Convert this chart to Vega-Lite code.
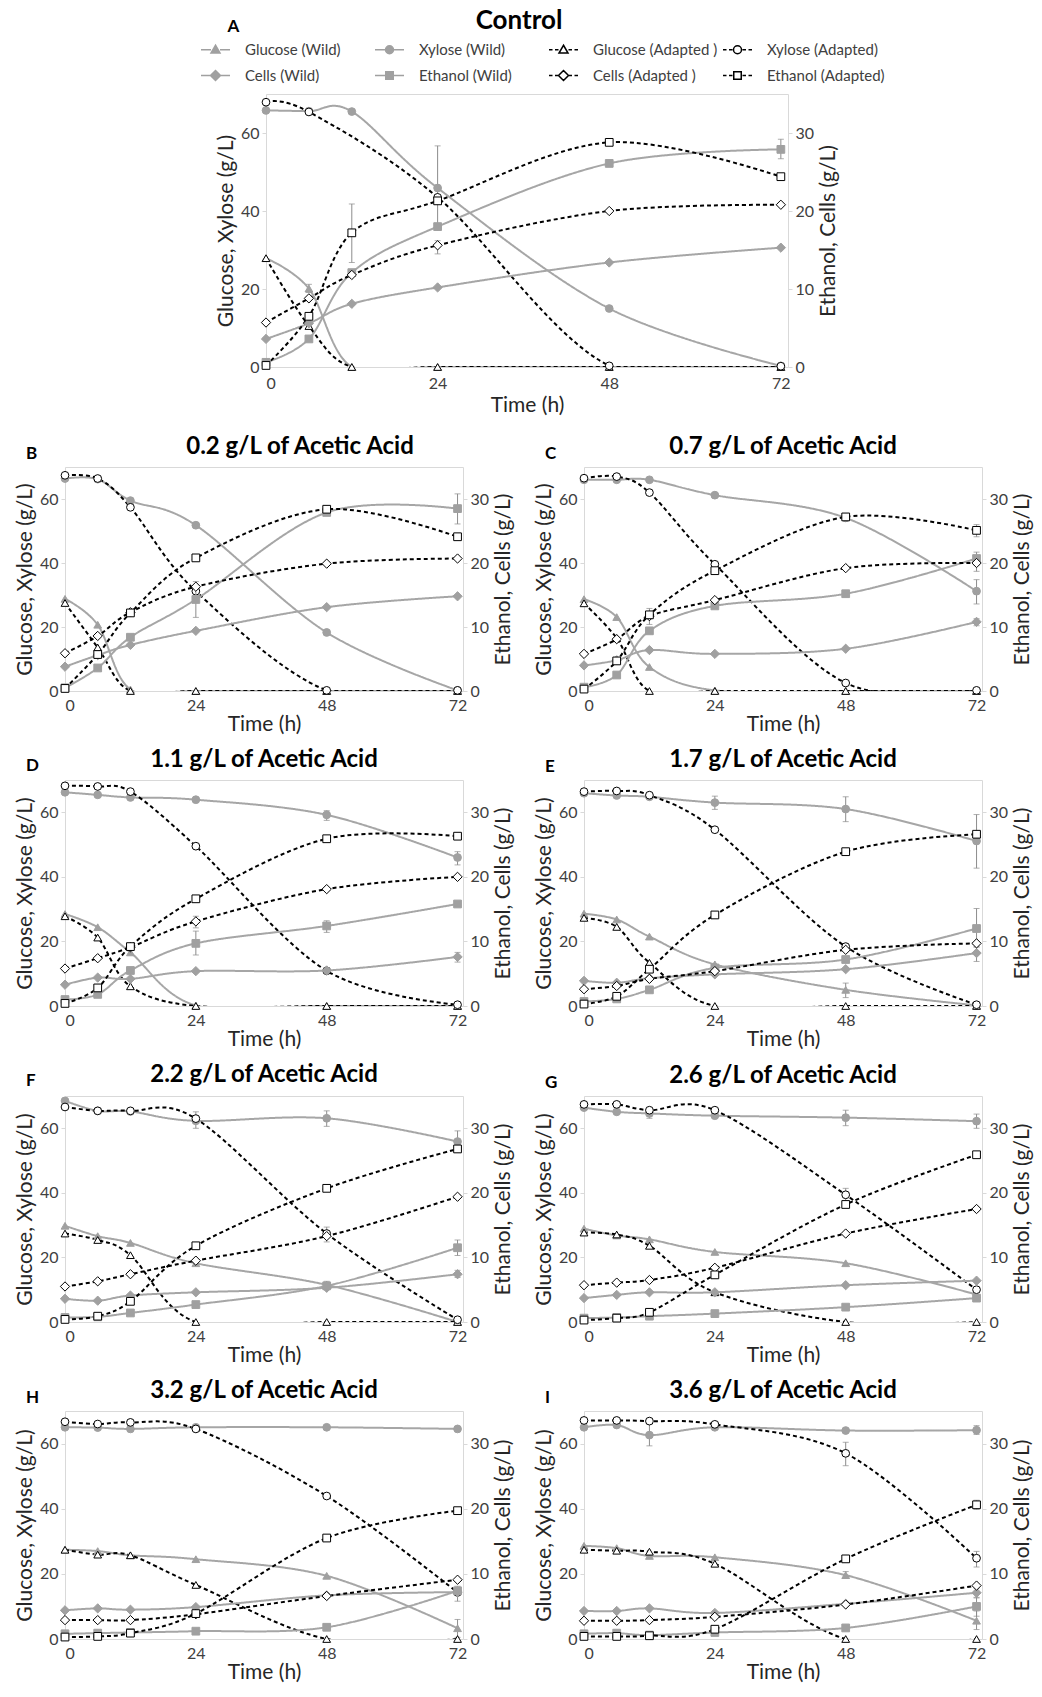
{
"$schema":"https://vega.github.io/schema/vega-lite/v6.json",
"padding":{"left":13,"top":7,"right":4,"bottom":4},
"background":"white",
"config":{
 "font":"Lato",
 "view":{"stroke":"#d9d9d9","strokeWidth":1},
 "axis":{"grid":false,"domain":false,"ticks":true,"tickColor":"#d9d9d9","tickSize":4,"labelFont":"Lato","labelFontSize":16,"labelColor":"#404040","labelPadding":3,"titleFont":"Lato","titleFontSize":21,"titleFontWeight":"normal","titleColor":"#262626","titlePadding":4},
 "axisRight":{"titleAngle":270,"titleBaseline":"top"},
 "title":{"font":"Lato","fontSize":24,"fontWeight":"bold","color":"#000000","offset":8}
},
"datasets":{"d":[
{"p":"A","s":"Glucose (Wild)","t":0,"v":27.9},{"p":"A","s":"Glucose (Wild)","t":6,"v":20.1,"lo":19.1,"hi":21.2},{"p":"A","s":"Glucose (Wild)","t":12,"v":0},{"p":"A","s":"Glucose (Wild)","t":24,"v":0},{"p":"A","s":"Glucose (Wild)","t":48,"v":0},{"p":"A","s":"Glucose (Wild)","t":72,"v":0},
{"p":"A","s":"Xylose (Wild)","t":0,"v":65.8},{"p":"A","s":"Xylose (Wild)","t":6,"v":65.6},{"p":"A","s":"Xylose (Wild)","t":12,"v":65.5},{"p":"A","s":"Xylose (Wild)","t":24,"v":45.9,"lo":35.0,"hi":56.7},{"p":"A","s":"Xylose (Wild)","t":48,"v":15.0},{"p":"A","s":"Xylose (Wild)","t":72,"v":0.3},
{"p":"A","s":"Glucose (Adapted )","t":0,"v":27.9},{"p":"A","s":"Glucose (Adapted )","t":6,"v":10.5},{"p":"A","s":"Glucose (Adapted )","t":12,"v":0},{"p":"A","s":"Glucose (Adapted )","t":24,"v":0},{"p":"A","s":"Glucose (Adapted )","t":48,"v":0},{"p":"A","s":"Glucose (Adapted )","t":72,"v":0},
{"p":"A","s":"Xylose (Adapted)","t":0,"v":67.9},{"p":"A","s":"Xylose (Adapted)","t":6,"v":65.4},{"p":"A","s":"Xylose (Adapted)","t":24,"v":43.5},{"p":"A","s":"Xylose (Adapted)","t":48,"v":0.3},{"p":"A","s":"Xylose (Adapted)","t":72,"v":0.2},
{"p":"A","s":"Cells (Wild)","t":0,"v":3.6},{"p":"A","s":"Cells (Wild)","t":6,"v":5.6},{"p":"A","s":"Cells (Wild)","t":12,"v":8.1},{"p":"A","s":"Cells (Wild)","t":24,"v":10.2},{"p":"A","s":"Cells (Wild)","t":48,"v":13.4},{"p":"A","s":"Cells (Wild)","t":72,"v":15.3},
{"p":"A","s":"Ethanol (Wild)","t":0,"v":0.6},{"p":"A","s":"Ethanol (Wild)","t":6,"v":3.6},{"p":"A","s":"Ethanol (Wild)","t":12,"v":12.1},{"p":"A","s":"Ethanol (Wild)","t":24,"v":18.0},{"p":"A","s":"Ethanol (Wild)","t":48,"v":26.1},{"p":"A","s":"Ethanol (Wild)","t":72,"v":27.9,"lo":26.7,"hi":29.2},
{"p":"A","s":"Cells (Adapted )","t":0,"v":5.7},{"p":"A","s":"Cells (Adapted )","t":6,"v":8.8},{"p":"A","s":"Cells (Adapted )","t":12,"v":11.8},{"p":"A","s":"Cells (Adapted )","t":24,"v":15.6,"lo":14.5,"hi":16.2},{"p":"A","s":"Cells (Adapted )","t":48,"v":20.0},{"p":"A","s":"Cells (Adapted )","t":72,"v":20.8},
{"p":"A","s":"Ethanol (Adapted)","t":0,"v":0.2},{"p":"A","s":"Ethanol (Adapted)","t":6,"v":6.5},{"p":"A","s":"Ethanol (Adapted)","t":12,"v":17.2,"lo":13.4,"hi":20.9},{"p":"A","s":"Ethanol (Adapted)","t":24,"v":21.3},{"p":"A","s":"Ethanol (Adapted)","t":48,"v":28.8},{"p":"A","s":"Ethanol (Adapted)","t":72,"v":24.4},

{"p":"B","s":"Glucose (Wild)","t":0,"v":28.8},{"p":"B","s":"Glucose (Wild)","t":6,"v":20.7},{"p":"B","s":"Glucose (Wild)","t":12,"v":0.5},{"p":"B","s":"Glucose (Wild)","t":24,"v":0},{"p":"B","s":"Glucose (Wild)","t":48,"v":0},{"p":"B","s":"Glucose (Wild)","t":72,"v":0},
{"p":"B","s":"Xylose (Wild)","t":0,"v":66.4},{"p":"B","s":"Xylose (Wild)","t":6,"v":66.2},{"p":"B","s":"Xylose (Wild)","t":12,"v":59.5},{"p":"B","s":"Xylose (Wild)","t":24,"v":51.8},{"p":"B","s":"Xylose (Wild)","t":48,"v":18.3},{"p":"B","s":"Xylose (Wild)","t":72,"v":0.2},
{"p":"B","s":"Glucose (Adapted )","t":0,"v":27.5},{"p":"B","s":"Glucose (Adapted )","t":6,"v":13.6},{"p":"B","s":"Glucose (Adapted )","t":12,"v":0},{"p":"B","s":"Glucose (Adapted )","t":24,"v":0},{"p":"B","s":"Glucose (Adapted )","t":48,"v":0},{"p":"B","s":"Glucose (Adapted )","t":72,"v":0},
{"p":"B","s":"Xylose (Adapted)","t":0,"v":67.4},{"p":"B","s":"Xylose (Adapted)","t":6,"v":66.4},{"p":"B","s":"Xylose (Adapted)","t":12,"v":57.4},{"p":"B","s":"Xylose (Adapted)","t":24,"v":31.2},{"p":"B","s":"Xylose (Adapted)","t":48,"v":0.2},{"p":"B","s":"Xylose (Adapted)","t":72,"v":0.2},
{"p":"B","s":"Cells (Wild)","t":0,"v":3.8},{"p":"B","s":"Cells (Wild)","t":6,"v":5.6},{"p":"B","s":"Cells (Wild)","t":12,"v":7.2},{"p":"B","s":"Cells (Wild)","t":24,"v":9.4},{"p":"B","s":"Cells (Wild)","t":48,"v":13.1},{"p":"B","s":"Cells (Wild)","t":72,"v":14.8},
{"p":"B","s":"Ethanol (Wild)","t":0,"v":0.5},{"p":"B","s":"Ethanol (Wild)","t":6,"v":3.6},{"p":"B","s":"Ethanol (Wild)","t":12,"v":8.4},{"p":"B","s":"Ethanol (Wild)","t":24,"v":14.3,"lo":11.5,"hi":17.1},{"p":"B","s":"Ethanol (Wild)","t":48,"v":27.9},{"p":"B","s":"Ethanol (Wild)","t":72,"v":28.5,"lo":26.1,"hi":30.8},
{"p":"B","s":"Cells (Adapted )","t":0,"v":5.9},{"p":"B","s":"Cells (Adapted )","t":6,"v":8.6},{"p":"B","s":"Cells (Adapted )","t":12,"v":12.3},{"p":"B","s":"Cells (Adapted )","t":24,"v":16.3},{"p":"B","s":"Cells (Adapted )","t":48,"v":19.9},{"p":"B","s":"Cells (Adapted )","t":72,"v":20.7},
{"p":"B","s":"Ethanol (Adapted)","t":0,"v":0.4},{"p":"B","s":"Ethanol (Adapted)","t":6,"v":5.7},{"p":"B","s":"Ethanol (Adapted)","t":12,"v":12.2},{"p":"B","s":"Ethanol (Adapted)","t":24,"v":20.8},{"p":"B","s":"Ethanol (Adapted)","t":48,"v":28.4},{"p":"B","s":"Ethanol (Adapted)","t":72,"v":24.1},

{"p":"C","s":"Glucose (Wild)","t":0,"v":28.7},{"p":"C","s":"Glucose (Wild)","t":6,"v":23.1},{"p":"C","s":"Glucose (Wild)","t":12,"v":7.5},{"p":"C","s":"Glucose (Wild)","t":24,"v":0.2},{"p":"C","s":"Glucose (Wild)","t":48,"v":0},{"p":"C","s":"Glucose (Wild)","t":72,"v":0},
{"p":"C","s":"Xylose (Wild)","t":0,"v":66.0},{"p":"C","s":"Xylose (Wild)","t":6,"v":66.0},{"p":"C","s":"Xylose (Wild)","t":12,"v":66.0},{"p":"C","s":"Xylose (Wild)","t":24,"v":61.2},{"p":"C","s":"Xylose (Wild)","t":48,"v":54.1},{"p":"C","s":"Xylose (Wild)","t":72,"v":31.2,"lo":27.2,"hi":34.8},
{"p":"C","s":"Glucose (Adapted )","t":0,"v":27.4},{"p":"C","s":"Glucose (Adapted )","t":6,"v":16.5},{"p":"C","s":"Glucose (Adapted )","t":12,"v":0},{"p":"C","s":"Glucose (Adapted )","t":24,"v":0},{"p":"C","s":"Glucose (Adapted )","t":48,"v":0},{"p":"C","s":"Glucose (Adapted )","t":72,"v":0},
{"p":"C","s":"Xylose (Adapted)","t":0,"v":66.5},{"p":"C","s":"Xylose (Adapted)","t":6,"v":67.0},{"p":"C","s":"Xylose (Adapted)","t":12,"v":62.0},{"p":"C","s":"Xylose (Adapted)","t":24,"v":39.6},{"p":"C","s":"Xylose (Adapted)","t":48,"v":2.5},{"p":"C","s":"Xylose (Adapted)","t":72,"v":0.2},
{"p":"C","s":"Cells (Wild)","t":0,"v":4.0},{"p":"C","s":"Cells (Wild)","t":6,"v":4.8},{"p":"C","s":"Cells (Wild)","t":12,"v":6.4},{"p":"C","s":"Cells (Wild)","t":24,"v":5.8},{"p":"C","s":"Cells (Wild)","t":48,"v":6.6},{"p":"C","s":"Cells (Wild)","t":72,"v":10.8,"lo":10.2,"hi":11.3},
{"p":"C","s":"Ethanol (Wild)","t":0,"v":0.6},{"p":"C","s":"Ethanol (Wild)","t":6,"v":2.5},{"p":"C","s":"Ethanol (Wild)","t":12,"v":9.4},{"p":"C","s":"Ethanol (Wild)","t":24,"v":13.3},{"p":"C","s":"Ethanol (Wild)","t":48,"v":15.2},{"p":"C","s":"Ethanol (Wild)","t":72,"v":20.7,"lo":19.7,"hi":21.7},
{"p":"C","s":"Cells (Adapted )","t":0,"v":5.8},{"p":"C","s":"Cells (Adapted )","t":6,"v":8.1},{"p":"C","s":"Cells (Adapted )","t":12,"v":11.7},{"p":"C","s":"Cells (Adapted )","t":24,"v":14.2},{"p":"C","s":"Cells (Adapted )","t":48,"v":19.2},{"p":"C","s":"Cells (Adapted )","t":72,"v":20.0,"lo":18.7,"hi":21.0},
{"p":"C","s":"Ethanol (Adapted)","t":0,"v":0.3},{"p":"C","s":"Ethanol (Adapted)","t":6,"v":4.7},{"p":"C","s":"Ethanol (Adapted)","t":12,"v":11.9,"lo":10.4,"hi":12.9},{"p":"C","s":"Ethanol (Adapted)","t":24,"v":18.8},{"p":"C","s":"Ethanol (Adapted)","t":48,"v":27.2},{"p":"C","s":"Ethanol (Adapted)","t":72,"v":25.1,"lo":24.1,"hi":26.0},

{"p":"D","s":"Glucose (Wild)","t":0,"v":28.5},{"p":"D","s":"Glucose (Wild)","t":6,"v":24.4},{"p":"D","s":"Glucose (Wild)","t":12,"v":16.6},{"p":"D","s":"Glucose (Wild)","t":24,"v":0.2},{"p":"D","s":"Glucose (Wild)","t":48,"v":0},{"p":"D","s":"Glucose (Wild)","t":72,"v":0},
{"p":"D","s":"Xylose (Wild)","t":0,"v":66.2},{"p":"D","s":"Xylose (Wild)","t":6,"v":65.4},{"p":"D","s":"Xylose (Wild)","t":12,"v":64.6},{"p":"D","s":"Xylose (Wild)","t":24,"v":63.9},{"p":"D","s":"Xylose (Wild)","t":48,"v":59.2,"lo":57.5,"hi":60.5},{"p":"D","s":"Xylose (Wild)","t":72,"v":46.0,"lo":43.7,"hi":47.8},
{"p":"D","s":"Glucose (Adapted )","t":0,"v":27.8},{"p":"D","s":"Glucose (Adapted )","t":6,"v":21.2},{"p":"D","s":"Glucose (Adapted )","t":12,"v":6.1},{"p":"D","s":"Glucose (Adapted )","t":24,"v":0},{"p":"D","s":"Glucose (Adapted )","t":48,"v":0},{"p":"D","s":"Glucose (Adapted )","t":72,"v":0},
{"p":"D","s":"Xylose (Adapted)","t":0,"v":68.2},{"p":"D","s":"Xylose (Adapted)","t":6,"v":68.0},{"p":"D","s":"Xylose (Adapted)","t":12,"v":66.4},{"p":"D","s":"Xylose (Adapted)","t":24,"v":49.5},{"p":"D","s":"Xylose (Adapted)","t":48,"v":10.9},{"p":"D","s":"Xylose (Adapted)","t":72,"v":0.4},
{"p":"D","s":"Cells (Wild)","t":0,"v":3.3},{"p":"D","s":"Cells (Wild)","t":6,"v":4.4},{"p":"D","s":"Cells (Wild)","t":12,"v":4.2},{"p":"D","s":"Cells (Wild)","t":24,"v":5.4},{"p":"D","s":"Cells (Wild)","t":48,"v":5.5},{"p":"D","s":"Cells (Wild)","t":72,"v":7.6,"lo":6.8,"hi":8.3},
{"p":"D","s":"Ethanol (Wild)","t":0,"v":1.0},{"p":"D","s":"Ethanol (Wild)","t":6,"v":1.8},{"p":"D","s":"Ethanol (Wild)","t":12,"v":5.5},{"p":"D","s":"Ethanol (Wild)","t":24,"v":9.7,"lo":7.9,"hi":11.6},{"p":"D","s":"Ethanol (Wild)","t":48,"v":12.4,"lo":11.4,"hi":13.2},{"p":"D","s":"Ethanol (Wild)","t":72,"v":15.8},
{"p":"D","s":"Cells (Adapted )","t":0,"v":5.8},{"p":"D","s":"Cells (Adapted )","t":6,"v":7.4},{"p":"D","s":"Cells (Adapted )","t":12,"v":9.1},{"p":"D","s":"Cells (Adapted )","t":24,"v":13.1,"lo":12.1,"hi":13.9},{"p":"D","s":"Cells (Adapted )","t":48,"v":18.1},{"p":"D","s":"Cells (Adapted )","t":72,"v":20.0},
{"p":"D","s":"Ethanol (Adapted)","t":0,"v":0.4},{"p":"D","s":"Ethanol (Adapted)","t":6,"v":2.8},{"p":"D","s":"Ethanol (Adapted)","t":12,"v":9.2},{"p":"D","s":"Ethanol (Adapted)","t":24,"v":16.6},{"p":"D","s":"Ethanol (Adapted)","t":48,"v":25.9},{"p":"D","s":"Ethanol (Adapted)","t":72,"v":26.3},

{"p":"E","s":"Glucose (Wild)","t":0,"v":28.6},{"p":"E","s":"Glucose (Wild)","t":6,"v":26.8},{"p":"E","s":"Glucose (Wild)","t":12,"v":21.5},{"p":"E","s":"Glucose (Wild)","t":24,"v":12.9},{"p":"E","s":"Glucose (Wild)","t":48,"v":5.0,"lo":2.6,"hi":7.1},{"p":"E","s":"Glucose (Wild)","t":72,"v":0.2},
{"p":"E","s":"Xylose (Wild)","t":0,"v":65.9},{"p":"E","s":"Xylose (Wild)","t":6,"v":65.2},{"p":"E","s":"Xylose (Wild)","t":12,"v":64.8},{"p":"E","s":"Xylose (Wild)","t":24,"v":63.0,"lo":60.9,"hi":65.0},{"p":"E","s":"Xylose (Wild)","t":48,"v":61.0,"lo":57.1,"hi":64.8},{"p":"E","s":"Xylose (Wild)","t":72,"v":51.1,"lo":42.7,"hi":59.3},
{"p":"E","s":"Glucose (Adapted )","t":0,"v":27.3},{"p":"E","s":"Glucose (Adapted )","t":6,"v":24.5},{"p":"E","s":"Glucose (Adapted )","t":12,"v":13.4},{"p":"E","s":"Glucose (Adapted )","t":24,"v":0},{"p":"E","s":"Glucose (Adapted )","t":48,"v":0},{"p":"E","s":"Glucose (Adapted )","t":72,"v":0},
{"p":"E","s":"Xylose (Adapted)","t":0,"v":66.4},{"p":"E","s":"Xylose (Adapted)","t":6,"v":66.6},{"p":"E","s":"Xylose (Adapted)","t":12,"v":65.3},{"p":"E","s":"Xylose (Adapted)","t":24,"v":54.6},{"p":"E","s":"Xylose (Adapted)","t":48,"v":18.4},{"p":"E","s":"Xylose (Adapted)","t":72,"v":0.4},
{"p":"E","s":"Cells (Wild)","t":0,"v":3.9},{"p":"E","s":"Cells (Wild)","t":6,"v":3.6},{"p":"E","s":"Cells (Wild)","t":12,"v":4.3},{"p":"E","s":"Cells (Wild)","t":24,"v":4.9},{"p":"E","s":"Cells (Wild)","t":48,"v":5.7},{"p":"E","s":"Cells (Wild)","t":72,"v":8.2,"lo":6.9,"hi":9.1},
{"p":"E","s":"Ethanol (Wild)","t":0,"v":0.7},{"p":"E","s":"Ethanol (Wild)","t":6,"v":1.1},{"p":"E","s":"Ethanol (Wild)","t":12,"v":2.5},{"p":"E","s":"Ethanol (Wild)","t":24,"v":5.9},{"p":"E","s":"Ethanol (Wild)","t":48,"v":7.2},{"p":"E","s":"Ethanol (Wild)","t":72,"v":12.0,"lo":9.2,"hi":15.1},
{"p":"E","s":"Cells (Adapted )","t":0,"v":2.6},{"p":"E","s":"Cells (Adapted )","t":6,"v":3.1},{"p":"E","s":"Cells (Adapted )","t":12,"v":4.2},{"p":"E","s":"Cells (Adapted )","t":24,"v":5.4},{"p":"E","s":"Cells (Adapted )","t":48,"v":8.7},{"p":"E","s":"Cells (Adapted )","t":72,"v":9.7},
{"p":"E","s":"Ethanol (Adapted)","t":0,"v":0.3},{"p":"E","s":"Ethanol (Adapted)","t":6,"v":1.5},{"p":"E","s":"Ethanol (Adapted)","t":12,"v":5.7},{"p":"E","s":"Ethanol (Adapted)","t":24,"v":14.1},{"p":"E","s":"Ethanol (Adapted)","t":48,"v":23.9},{"p":"E","s":"Ethanol (Adapted)","t":72,"v":26.6},

{"p":"F","s":"Glucose (Wild)","t":0,"v":29.8},{"p":"F","s":"Glucose (Wild)","t":6,"v":26.6},{"p":"F","s":"Glucose (Wild)","t":12,"v":24.5},{"p":"F","s":"Glucose (Wild)","t":24,"v":18.2},{"p":"F","s":"Glucose (Wild)","t":48,"v":11.5},{"p":"F","s":"Glucose (Wild)","t":72,"v":0},
{"p":"F","s":"Xylose (Wild)","t":0,"v":68.5},{"p":"F","s":"Xylose (Wild)","t":6,"v":65.4},{"p":"F","s":"Xylose (Wild)","t":12,"v":65.2},{"p":"F","s":"Xylose (Wild)","t":24,"v":62.3},{"p":"F","s":"Xylose (Wild)","t":48,"v":63.1,"lo":60.6,"hi":65.4},{"p":"F","s":"Xylose (Wild)","t":72,"v":55.9,"lo":52.6,"hi":59.2},
{"p":"F","s":"Glucose (Adapted )","t":0,"v":27.4},{"p":"F","s":"Glucose (Adapted )","t":6,"v":25.4},{"p":"F","s":"Glucose (Adapted )","t":12,"v":20.7},{"p":"F","s":"Glucose (Adapted )","t":24,"v":0},{"p":"F","s":"Glucose (Adapted )","t":48,"v":0},{"p":"F","s":"Glucose (Adapted )","t":72,"v":0},
{"p":"F","s":"Xylose (Adapted)","t":0,"v":66.6},{"p":"F","s":"Xylose (Adapted)","t":6,"v":65.4},{"p":"F","s":"Xylose (Adapted)","t":12,"v":65.4},{"p":"F","s":"Xylose (Adapted)","t":24,"v":63.0,"lo":60.0,"hi":65.1},{"p":"F","s":"Xylose (Adapted)","t":48,"v":27.4,"lo":24.8,"hi":29.4},{"p":"F","s":"Xylose (Adapted)","t":72,"v":0.7},
{"p":"F","s":"Cells (Wild)","t":0,"v":3.6},{"p":"F","s":"Cells (Wild)","t":6,"v":3.3},{"p":"F","s":"Cells (Wild)","t":12,"v":4.1},{"p":"F","s":"Cells (Wild)","t":24,"v":4.6},{"p":"F","s":"Cells (Wild)","t":48,"v":5.3},{"p":"F","s":"Cells (Wild)","t":72,"v":7.4,"lo":6.9,"hi":8.0},
{"p":"F","s":"Ethanol (Wild)","t":0,"v":0.7},{"p":"F","s":"Ethanol (Wild)","t":6,"v":0.8},{"p":"F","s":"Ethanol (Wild)","t":12,"v":1.4},{"p":"F","s":"Ethanol (Wild)","t":24,"v":2.7},{"p":"F","s":"Ethanol (Wild)","t":48,"v":5.6,"lo":5.0,"hi":6.3},{"p":"F","s":"Ethanol (Wild)","t":72,"v":11.5,"lo":10.3,"hi":12.7},
{"p":"F","s":"Cells (Adapted )","t":0,"v":5.5},{"p":"F","s":"Cells (Adapted )","t":6,"v":6.3},{"p":"F","s":"Cells (Adapted )","t":12,"v":7.4},{"p":"F","s":"Cells (Adapted )","t":24,"v":9.5},{"p":"F","s":"Cells (Adapted )","t":48,"v":13.3},{"p":"F","s":"Cells (Adapted )","t":72,"v":19.4},
{"p":"F","s":"Ethanol (Adapted)","t":0,"v":0.4},{"p":"F","s":"Ethanol (Adapted)","t":6,"v":0.9},{"p":"F","s":"Ethanol (Adapted)","t":12,"v":3.2},{"p":"F","s":"Ethanol (Adapted)","t":24,"v":11.8},{"p":"F","s":"Ethanol (Adapted)","t":48,"v":20.7},{"p":"F","s":"Ethanol (Adapted)","t":72,"v":26.8},

{"p":"G","s":"Glucose (Wild)","t":0,"v":28.9},{"p":"G","s":"Glucose (Wild)","t":6,"v":26.8},{"p":"G","s":"Glucose (Wild)","t":12,"v":25.6},{"p":"G","s":"Glucose (Wild)","t":24,"v":21.7},{"p":"G","s":"Glucose (Wild)","t":48,"v":18.2},{"p":"G","s":"Glucose (Wild)","t":72,"v":8.5},
{"p":"G","s":"Xylose (Wild)","t":0,"v":66.4},{"p":"G","s":"Xylose (Wild)","t":6,"v":65.1},{"p":"G","s":"Xylose (Wild)","t":12,"v":64.6,"lo":63.1,"hi":66.0},{"p":"G","s":"Xylose (Wild)","t":24,"v":63.9},{"p":"G","s":"Xylose (Wild)","t":48,"v":63.3,"lo":60.8,"hi":65.6},{"p":"G","s":"Xylose (Wild)","t":72,"v":62.2,"lo":60.0,"hi":64.4},
{"p":"G","s":"Glucose (Adapted )","t":0,"v":27.7},{"p":"G","s":"Glucose (Adapted )","t":6,"v":27.1},{"p":"G","s":"Glucose (Adapted )","t":12,"v":23.6},{"p":"G","s":"Glucose (Adapted )","t":24,"v":9.2},{"p":"G","s":"Glucose (Adapted )","t":48,"v":0},{"p":"G","s":"Glucose (Adapted )","t":72,"v":0},
{"p":"G","s":"Xylose (Adapted)","t":0,"v":67.4},{"p":"G","s":"Xylose (Adapted)","t":6,"v":67.4},{"p":"G","s":"Xylose (Adapted)","t":12,"v":65.6},{"p":"G","s":"Xylose (Adapted)","t":24,"v":65.6},{"p":"G","s":"Xylose (Adapted)","t":48,"v":39.4,"lo":37.6,"hi":41.4},{"p":"G","s":"Xylose (Adapted)","t":72,"v":10.0},
{"p":"G","s":"Cells (Wild)","t":0,"v":3.7},{"p":"G","s":"Cells (Wild)","t":6,"v":4.2},{"p":"G","s":"Cells (Wild)","t":12,"v":4.6},{"p":"G","s":"Cells (Wild)","t":24,"v":4.6},{"p":"G","s":"Cells (Wild)","t":48,"v":5.7},{"p":"G","s":"Cells (Wild)","t":72,"v":6.4},
{"p":"G","s":"Ethanol (Wild)","t":0,"v":0.6},{"p":"G","s":"Ethanol (Wild)","t":6,"v":0.7},{"p":"G","s":"Ethanol (Wild)","t":12,"v":0.9},{"p":"G","s":"Ethanol (Wild)","t":24,"v":1.3},{"p":"G","s":"Ethanol (Wild)","t":48,"v":2.3},{"p":"G","s":"Ethanol (Wild)","t":72,"v":3.7},
{"p":"G","s":"Cells (Adapted )","t":0,"v":5.7},{"p":"G","s":"Cells (Adapted )","t":6,"v":6.1},{"p":"G","s":"Cells (Adapted )","t":12,"v":6.5},{"p":"G","s":"Cells (Adapted )","t":24,"v":8.4},{"p":"G","s":"Cells (Adapted )","t":48,"v":13.7},{"p":"G","s":"Cells (Adapted )","t":72,"v":17.5},
{"p":"G","s":"Ethanol (Adapted)","t":0,"v":0.3},{"p":"G","s":"Ethanol (Adapted)","t":6,"v":0.6},{"p":"G","s":"Ethanol (Adapted)","t":12,"v":1.5},{"p":"G","s":"Ethanol (Adapted)","t":24,"v":7.3},{"p":"G","s":"Ethanol (Adapted)","t":48,"v":18.2},{"p":"G","s":"Ethanol (Adapted)","t":72,"v":25.9},

{"p":"H","s":"Glucose (Wild)","t":0,"v":27.4},{"p":"H","s":"Glucose (Wild)","t":6,"v":27.0},{"p":"H","s":"Glucose (Wild)","t":12,"v":25.7},{"p":"H","s":"Glucose (Wild)","t":24,"v":24.5},{"p":"H","s":"Glucose (Wild)","t":48,"v":19.4},{"p":"H","s":"Glucose (Wild)","t":72,"v":3.3,"lo":0.5,"hi":6.0},
{"p":"H","s":"Xylose (Wild)","t":0,"v":65.0},{"p":"H","s":"Xylose (Wild)","t":6,"v":64.9},{"p":"H","s":"Xylose (Wild)","t":12,"v":64.5},{"p":"H","s":"Xylose (Wild)","t":24,"v":65.0},{"p":"H","s":"Xylose (Wild)","t":48,"v":65.0},{"p":"H","s":"Xylose (Wild)","t":72,"v":64.5},
{"p":"H","s":"Glucose (Adapted )","t":0,"v":27.4},{"p":"H","s":"Glucose (Adapted )","t":6,"v":25.9},{"p":"H","s":"Glucose (Adapted )","t":12,"v":25.7},{"p":"H","s":"Glucose (Adapted )","t":24,"v":16.6},{"p":"H","s":"Glucose (Adapted )","t":48,"v":0},{"p":"H","s":"Glucose (Adapted )","t":72,"v":0},
{"p":"H","s":"Xylose (Adapted)","t":0,"v":66.7},{"p":"H","s":"Xylose (Adapted)","t":6,"v":66.0},{"p":"H","s":"Xylose (Adapted)","t":12,"v":66.5},{"p":"H","s":"Xylose (Adapted)","t":24,"v":64.5},{"p":"H","s":"Xylose (Adapted)","t":48,"v":43.9},{"p":"H","s":"Xylose (Adapted)","t":72,"v":14.3},
{"p":"H","s":"Cells (Wild)","t":0,"v":4.4},{"p":"H","s":"Cells (Wild)","t":6,"v":4.7},{"p":"H","s":"Cells (Wild)","t":12,"v":4.5},{"p":"H","s":"Cells (Wild)","t":24,"v":4.9},{"p":"H","s":"Cells (Wild)","t":48,"v":6.7},{"p":"H","s":"Cells (Wild)","t":72,"v":7.2,"lo":5.8,"hi":8.1},
{"p":"H","s":"Ethanol (Wild)","t":0,"v":0.8},{"p":"H","s":"Ethanol (Wild)","t":6,"v":0.9},{"p":"H","s":"Ethanol (Wild)","t":12,"v":1.0},{"p":"H","s":"Ethanol (Wild)","t":24,"v":1.2},{"p":"H","s":"Ethanol (Wild)","t":48,"v":1.8},{"p":"H","s":"Ethanol (Wild)","t":72,"v":7.4},
{"p":"H","s":"Cells (Adapted )","t":0,"v":2.9},{"p":"H","s":"Cells (Adapted )","t":6,"v":2.9},{"p":"H","s":"Cells (Adapted )","t":12,"v":2.9},{"p":"H","s":"Cells (Adapted )","t":24,"v":3.8},{"p":"H","s":"Cells (Adapted )","t":48,"v":6.6},{"p":"H","s":"Cells (Adapted )","t":72,"v":9.1},
{"p":"H","s":"Ethanol (Adapted)","t":0,"v":0.3},{"p":"H","s":"Ethanol (Adapted)","t":6,"v":0.4},{"p":"H","s":"Ethanol (Adapted)","t":12,"v":0.9},{"p":"H","s":"Ethanol (Adapted)","t":24,"v":3.9},{"p":"H","s":"Ethanol (Adapted)","t":48,"v":15.5},{"p":"H","s":"Ethanol (Adapted)","t":72,"v":19.7},

{"p":"I","s":"Glucose (Wild)","t":0,"v":28.6},{"p":"I","s":"Glucose (Wild)","t":6,"v":27.9},{"p":"I","s":"Glucose (Wild)","t":12,"v":25.5},{"p":"I","s":"Glucose (Wild)","t":24,"v":25.1},{"p":"I","s":"Glucose (Wild)","t":48,"v":19.6,"lo":18.6,"hi":20.7},{"p":"I","s":"Glucose (Wild)","t":72,"v":5.6,"lo":2.9,"hi":8.6},
{"p":"I","s":"Xylose (Wild)","t":0,"v":65.0},{"p":"I","s":"Xylose (Wild)","t":6,"v":65.7},{"p":"I","s":"Xylose (Wild)","t":12,"v":62.6,"lo":59.3,"hi":66.0},{"p":"I","s":"Xylose (Wild)","t":24,"v":65.0},{"p":"I","s":"Xylose (Wild)","t":48,"v":64.0},{"p":"I","s":"Xylose (Wild)","t":72,"v":64.1,"lo":62.8,"hi":65.5},
{"p":"I","s":"Glucose (Adapted )","t":0,"v":27.4},{"p":"I","s":"Glucose (Adapted )","t":6,"v":27.1},{"p":"I","s":"Glucose (Adapted )","t":12,"v":26.8},{"p":"I","s":"Glucose (Adapted )","t":24,"v":23.1},{"p":"I","s":"Glucose (Adapted )","t":48,"v":0},{"p":"I","s":"Glucose (Adapted )","t":72,"v":0},
{"p":"I","s":"Xylose (Adapted)","t":0,"v":67.1},{"p":"I","s":"Xylose (Adapted)","t":6,"v":67.1},{"p":"I","s":"Xylose (Adapted)","t":12,"v":66.9},{"p":"I","s":"Xylose (Adapted)","t":24,"v":65.9},{"p":"I","s":"Xylose (Adapted)","t":48,"v":57.0,"lo":53.2,"hi":60.4},{"p":"I","s":"Xylose (Adapted)","t":72,"v":24.8,"lo":22.1,"hi":26.9},
{"p":"I","s":"Cells (Wild)","t":0,"v":4.3},{"p":"I","s":"Cells (Wild)","t":6,"v":4.3},{"p":"I","s":"Cells (Wild)","t":12,"v":4.7},{"p":"I","s":"Cells (Wild)","t":24,"v":4.0},{"p":"I","s":"Cells (Wild)","t":48,"v":5.4},{"p":"I","s":"Cells (Wild)","t":72,"v":7.1,"lo":6.3,"hi":7.8},
{"p":"I","s":"Ethanol (Wild)","t":0,"v":0.8},{"p":"I","s":"Ethanol (Wild)","t":6,"v":0.9},{"p":"I","s":"Ethanol (Wild)","t":12,"v":0.6},{"p":"I","s":"Ethanol (Wild)","t":24,"v":1.0},{"p":"I","s":"Ethanol (Wild)","t":48,"v":1.7},{"p":"I","s":"Ethanol (Wild)","t":72,"v":5.0,"lo":3.5,"hi":6.4},
{"p":"I","s":"Cells (Adapted )","t":0,"v":2.8},{"p":"I","s":"Cells (Adapted )","t":6,"v":2.8},{"p":"I","s":"Cells (Adapted )","t":12,"v":2.9},{"p":"I","s":"Cells (Adapted )","t":24,"v":3.4},{"p":"I","s":"Cells (Adapted )","t":48,"v":5.3},{"p":"I","s":"Cells (Adapted )","t":72,"v":8.2},
{"p":"I","s":"Ethanol (Adapted)","t":0,"v":0.4},{"p":"I","s":"Ethanol (Adapted)","t":6,"v":0.4},{"p":"I","s":"Ethanol (Adapted)","t":12,"v":0.5},{"p":"I","s":"Ethanol (Adapted)","t":24,"v":1.5},{"p":"I","s":"Ethanol (Adapted)","t":48,"v":12.3},{"p":"I","s":"Ethanol (Adapted)","t":72,"v":20.6,"lo":19.9,"hi":21.3}
]},
"data":{"name":"d"},
"spacing":18,
"vconcat":[
{"spacing":0,"hconcat":[
{"width":132,"height":1,"data":{"values":[]},"mark":"point","view":{"stroke":null}},
{"title":{"text":"A","anchor":"start","fontSize":17,"dx":30,"dy":28,"offset":0},
 "vconcat":[{
 "title":{"text":"Control","fontSize":26,"dx":-8},
 "width":522,"height":273,
 "transform":[{"filter":"datum.p=='A'"}],
 "layer":[
  {"transform":[{"filter":{"field":"s","oneOf":["Glucose (Wild)","Xylose (Wild)","Glucose (Adapted )","Xylose (Adapted)"]}}],
   "encoding":{"x":{"field":"t","type":"quantitative","scale":{"domain":[0,73],"nice":false},"axis":{"values":[0,24,48,72],"title":"Time (h)","titlePadding":3,"labelPadding":8,"ticks":false}},
     "y":{"field":"v","type":"quantitative","scale":{"domain":[0,70],"nice":false},"axis":{"orient":"left","values":[0,20,40,60],"title":"Glucose, Xylose (g/L)"}}},
   "layer":[
    {"mark":{"type":"line","interpolate":"cardinal","clip":true},"encoding":{
      "color":{"field":"s","type":"nominal","scale":{"domain":["Glucose (Wild)","Xylose (Wild)","Glucose (Adapted )","Xylose (Adapted)","Cells (Wild)","Ethanol (Wild)","Cells (Adapted )","Ethanol (Adapted)"],"range":["#a6a6a6","#a6a6a6","#000000","#000000","#a6a6a6","#a6a6a6","#000000","#000000"]},"legend":null},
      "strokeDash":{"field":"s","type":"nominal","scale":{"domain":["Glucose (Wild)","Xylose (Wild)","Glucose (Adapted )","Xylose (Adapted)","Cells (Wild)","Ethanol (Wild)","Cells (Adapted )","Ethanol (Adapted)"],"range":[[1,0],[1,0],[4,3],[4,3],[1,0],[1,0],[4,3],[4,3]]},"legend":null},
      "strokeWidth":{"field":"s","type":"nominal","scale":{"domain":["Glucose (Wild)","Xylose (Wild)","Glucose (Adapted )","Xylose (Adapted)","Cells (Wild)","Ethanol (Wild)","Cells (Adapted )","Ethanol (Adapted)"],"range":[2,2,1.6,1.6,2,2,1.6,1.6]},"legend":null}}},
    {"transform":[{"filter":"isValid(datum.lo)"}],"mark":{"type":"errorbar","ticks":true,"size":6,"thickness":1,"color":"#8c8c8c"},"encoding":{"y":{"field":"lo","type":"quantitative","scale":{"domain":[0,70],"nice":false},"axis":{"orient":"left","values":[0,20,40,60],"title":"Glucose, Xylose (g/L)"}},"y2":{"field":"hi"}}},
    {"mark":{"type":"point","size":60,"strokeWidth":1,"opacity":1},"encoding":{
      "shape":{"field":"s","type":"nominal","scale":{"domain":["Glucose (Wild)","Xylose (Wild)","Glucose (Adapted )","Xylose (Adapted)","Cells (Wild)","Ethanol (Wild)","Cells (Adapted )","Ethanol (Adapted)"],"range":["triangle-up","circle","triangle-up","circle","M0,-1.2L1.2,0L0,1.2L-1.2,0Z","square","M0,-1.2L1.2,0L0,1.2L-1.2,0Z","square"]},"legend":null},
      "fill":{"field":"s","type":"nominal","scale":{"domain":["Glucose (Wild)","Xylose (Wild)","Glucose (Adapted )","Xylose (Adapted)","Cells (Wild)","Ethanol (Wild)","Cells (Adapted )","Ethanol (Adapted)"],"range":["#a0a0a0","#a0a0a0","#ffffff","#ffffff","#a0a0a0","#a0a0a0","#ffffff","#ffffff"]},"legend":null},
      "stroke":{"field":"s","type":"nominal","scale":{"domain":["Glucose (Wild)","Xylose (Wild)","Glucose (Adapted )","Xylose (Adapted)","Cells (Wild)","Ethanol (Wild)","Cells (Adapted )","Ethanol (Adapted)"],"range":["#a0a0a0","#a0a0a0","#000000","#000000","#a0a0a0","#a0a0a0","#000000","#000000"]},"legend":null}}}
   ]},
  {"transform":[{"filter":{"field":"s","oneOf":["Cells (Wild)","Ethanol (Wild)","Cells (Adapted )","Ethanol (Adapted)"]}}],
   "encoding":{"x":{"field":"t","type":"quantitative","scale":{"domain":[0,73],"nice":false},"axis":{"values":[0,24,48,72],"title":"Time (h)","titlePadding":3,"labelPadding":8,"ticks":false}},
     "y":{"field":"v","type":"quantitative","scale":{"domain":[0,35],"nice":false},"axis":{"orient":"right","values":[0,10,20,30],"title":"Ethanol, Cells (g/L)"}}},
   "layer":[
    {"mark":{"type":"line","interpolate":"cardinal","clip":true},"encoding":{
      "color":{"field":"s","type":"nominal","scale":{"domain":["Glucose (Wild)","Xylose (Wild)","Glucose (Adapted )","Xylose (Adapted)","Cells (Wild)","Ethanol (Wild)","Cells (Adapted )","Ethanol (Adapted)"],"range":["#a6a6a6","#a6a6a6","#000000","#000000","#a6a6a6","#a6a6a6","#000000","#000000"]},"legend":null},
      "strokeDash":{"field":"s","type":"nominal","scale":{"domain":["Glucose (Wild)","Xylose (Wild)","Glucose (Adapted )","Xylose (Adapted)","Cells (Wild)","Ethanol (Wild)","Cells (Adapted )","Ethanol (Adapted)"],"range":[[1,0],[1,0],[4,3],[4,3],[1,0],[1,0],[4,3],[4,3]]},"legend":null},
      "strokeWidth":{"field":"s","type":"nominal","scale":{"domain":["Glucose (Wild)","Xylose (Wild)","Glucose (Adapted )","Xylose (Adapted)","Cells (Wild)","Ethanol (Wild)","Cells (Adapted )","Ethanol (Adapted)"],"range":[2,2,1.6,1.6,2,2,1.6,1.6]},"legend":null}}},
    {"transform":[{"filter":"isValid(datum.lo)"}],"mark":{"type":"errorbar","ticks":true,"size":6,"thickness":1,"color":"#8c8c8c"},"encoding":{"y":{"field":"lo","type":"quantitative","scale":{"domain":[0,35],"nice":false},"axis":{"orient":"right","values":[0,10,20,30],"title":"Ethanol, Cells (g/L)"}},"y2":{"field":"hi"}}},
    {"mark":{"type":"point","size":60,"strokeWidth":1,"opacity":1},"encoding":{
      "shape":{"field":"s","type":"nominal","scale":{"domain":["Glucose (Wild)","Xylose (Wild)","Glucose (Adapted )","Xylose (Adapted)","Cells (Wild)","Ethanol (Wild)","Cells (Adapted )","Ethanol (Adapted)"],"range":["triangle-up","circle","triangle-up","circle","M0,-1.2L1.2,0L0,1.2L-1.2,0Z","square","M0,-1.2L1.2,0L0,1.2L-1.2,0Z","square"]},"legend":null},
      "fill":{"field":"s","type":"nominal","scale":{"domain":["Glucose (Wild)","Xylose (Wild)","Glucose (Adapted )","Xylose (Adapted)","Cells (Wild)","Ethanol (Wild)","Cells (Adapted )","Ethanol (Adapted)"],"range":["#a0a0a0","#a0a0a0","#ffffff","#ffffff","#a0a0a0","#a0a0a0","#ffffff","#ffffff"]},"legend":null},
      "stroke":{"field":"s","type":"nominal","scale":{"domain":["Glucose (Wild)","Xylose (Wild)","Glucose (Adapted )","Xylose (Adapted)","Cells (Wild)","Ethanol (Wild)","Cells (Adapted )","Ethanol (Adapted)"],"range":["#a0a0a0","#a0a0a0","#000000","#000000","#a0a0a0","#a0a0a0","#000000","#000000"]},"legend":null}}}
   ]},
  {"transform":[{"filter":"datum.t==0"}],
   "mark":{"type":"point","opacity":0},
   "encoding":{
    "shape":{"field":"s","type":"nominal","scale":{"domain":["Glucose (Wild)","Xylose (Wild)","Glucose (Adapted )","Xylose (Adapted)","Cells (Wild)","Ethanol (Wild)","Cells (Adapted )","Ethanol (Adapted)"],"range":[
      "M-2.9,0L-0.9,0M0.9,0L2.9,0M0,-0.9L0.9,0.65L-0.9,0.65Z",
      "M-2.9,0L-0.8,0M0.8,0L2.9,0M0.8,0A0.8,0.8,0,1,1,-0.8,0A0.8,0.8,0,1,1,0.8,0Z",
      "M-2.9,0L-2.2,0M-1.7,0L-1.0,0M1.0,0L1.7,0M2.2,0L2.9,0M0,-0.9L0.9,0.65L-0.9,0.65Z",
      "M-2.9,0L-2.2,0M-1.7,0L-1.0,0M1.0,0L1.7,0M2.2,0L2.9,0M0.8,0A0.8,0.8,0,1,1,-0.8,0A0.8,0.8,0,1,1,0.8,0Z",
      "M-2.9,0L-1,0M1,0L2.9,0M0,-1L1,0L0,1L-1,0Z",
      "M-2.9,0L-0.75,0M0.75,0L2.9,0M-0.75,-0.75L0.75,-0.75L0.75,0.75L-0.75,0.75Z",
      "M-2.9,0L-2.2,0M-1.7,0L-1.0,0M1.0,0L1.7,0M2.2,0L2.9,0M0,-1L1,0L0,1L-1,0Z",
      "M-2.9,0L-2.2,0M-1.7,0L-1.0,0M1.0,0L1.7,0M2.2,0L2.9,0M-0.75,-0.75L0.75,-0.75L0.75,0.75L-0.75,0.75Z"]},
      "legend":{"title":null,"orient":"none","legendX":-68,"legendY":-52,"direction":"horizontal","columns":4,"gridAlign":"all","columnPadding":2,"rowPadding":9,"symbolSize":100,"symbolStrokeWidth":1.5,"symbolOffset":10,"labelOffset":22,"labelFontSize":15,"labelFont":"Lato","labelColor":"#404040","symbolOpacity":1}},
    "fill":{"field":"s","type":"nominal","scale":{"domain":["Glucose (Wild)","Xylose (Wild)","Glucose (Adapted )","Xylose (Adapted)","Cells (Wild)","Ethanol (Wild)","Cells (Adapted )","Ethanol (Adapted)"],"range":["#a0a0a0","#a0a0a0","#ffffff","#ffffff","#a0a0a0","#a0a0a0","#ffffff","#ffffff"]},
      "legend":{"title":null,"orient":"none","legendX":-68,"legendY":-52,"direction":"horizontal","columns":4,"gridAlign":"all","columnPadding":2,"rowPadding":9,"symbolSize":100,"symbolStrokeWidth":1.5,"symbolOffset":10,"labelOffset":22,"labelFontSize":15,"labelFont":"Lato","labelColor":"#404040","symbolOpacity":1}},
    "stroke":{"field":"s","type":"nominal","scale":{"domain":["Glucose (Wild)","Xylose (Wild)","Glucose (Adapted )","Xylose (Adapted)","Cells (Wild)","Ethanol (Wild)","Cells (Adapted )","Ethanol (Adapted)"],"range":["#a0a0a0","#a0a0a0","#000000","#000000","#a0a0a0","#a0a0a0","#000000","#000000"]},
      "legend":{"title":null,"orient":"none","legendX":-68,"legendY":-52,"direction":"horizontal","columns":4,"gridAlign":"all","columnPadding":2,"rowPadding":9,"symbolSize":100,"symbolStrokeWidth":1.5,"symbolOffset":10,"labelOffset":22,"labelFontSize":15,"labelFont":"Lato","labelColor":"#404040","symbolOpacity":1}}
   }}
 ],
 "resolve":{"scale":{"y":"independent","shape":"independent","fill":"independent","stroke":"independent"}}
 }]
}]},
{"spacing":12,"vconcat":[
{"hconcat":[
 {"title":{"text":"B","anchor":"start","fontSize":17,"dx":12,"dy":28,"offset":0},"vconcat":[{"title":{"text":"0.2 g/L of Acetic Acid","dx":36},"width":398,"height":224,"transform":[{"filter":"datum.p=='B'"}],"layer":[
  {"transform":[{"filter":{"field":"s","oneOf":["Glucose (Wild)","Xylose (Wild)","Glucose (Adapted )","Xylose (Adapted)"]}}],"encoding":{"x":{"field":"t","type":"quantitative","scale":{"domain":[0,73],"nice":false},"axis":{"values":[0,24,48,72],"title":"Time (h)","titlePadding":0,"labelPadding":6,"ticks":false}},"y":{"field":"v","type":"quantitative","scale":{"domain":[0,70],"nice":false},"axis":{"orient":"left","values":[0,20,40,60],"title":"Glucose, Xylose (g/L)"}}},"layer":[
   {"mark":{"type":"line","interpolate":"cardinal","clip":true},"encoding":{"color":{"field":"s","type":"nominal","scale":{"domain":["Glucose (Wild)","Xylose (Wild)","Glucose (Adapted )","Xylose (Adapted)","Cells (Wild)","Ethanol (Wild)","Cells (Adapted )","Ethanol (Adapted)"],"range":["#a6a6a6","#a6a6a6","#000000","#000000","#a6a6a6","#a6a6a6","#000000","#000000"]},"legend":null},"strokeDash":{"field":"s","type":"nominal","scale":{"domain":["Glucose (Wild)","Xylose (Wild)","Glucose (Adapted )","Xylose (Adapted)","Cells (Wild)","Ethanol (Wild)","Cells (Adapted )","Ethanol (Adapted)"],"range":[[1,0],[1,0],[4,3],[4,3],[1,0],[1,0],[4,3],[4,3]]},"legend":null},"strokeWidth":{"field":"s","type":"nominal","scale":{"domain":["Glucose (Wild)","Xylose (Wild)","Glucose (Adapted )","Xylose (Adapted)","Cells (Wild)","Ethanol (Wild)","Cells (Adapted )","Ethanol (Adapted)"],"range":[2,2,1.6,1.6,2,2,1.6,1.6]},"legend":null}}},
   {"transform":[{"filter":"isValid(datum.lo)"}],"mark":{"type":"errorbar","ticks":true,"size":6,"thickness":1,"color":"#8c8c8c"},"encoding":{"y":{"field":"lo","type":"quantitative","scale":{"domain":[0,70],"nice":false},"axis":{"orient":"left","values":[0,20,40,60],"title":"Glucose, Xylose (g/L)"}},"y2":{"field":"hi"}}},
   {"mark":{"type":"point","size":60,"strokeWidth":1,"opacity":1},"encoding":{"shape":{"field":"s","type":"nominal","scale":{"domain":["Glucose (Wild)","Xylose (Wild)","Glucose (Adapted )","Xylose (Adapted)","Cells (Wild)","Ethanol (Wild)","Cells (Adapted )","Ethanol (Adapted)"],"range":["triangle-up","circle","triangle-up","circle","M0,-1.2L1.2,0L0,1.2L-1.2,0Z","square","M0,-1.2L1.2,0L0,1.2L-1.2,0Z","square"]},"legend":null},"fill":{"field":"s","type":"nominal","scale":{"domain":["Glucose (Wild)","Xylose (Wild)","Glucose (Adapted )","Xylose (Adapted)","Cells (Wild)","Ethanol (Wild)","Cells (Adapted )","Ethanol (Adapted)"],"range":["#a0a0a0","#a0a0a0","#ffffff","#ffffff","#a0a0a0","#a0a0a0","#ffffff","#ffffff"]},"legend":null},"stroke":{"field":"s","type":"nominal","scale":{"domain":["Glucose (Wild)","Xylose (Wild)","Glucose (Adapted )","Xylose (Adapted)","Cells (Wild)","Ethanol (Wild)","Cells (Adapted )","Ethanol (Adapted)"],"range":["#a0a0a0","#a0a0a0","#000000","#000000","#a0a0a0","#a0a0a0","#000000","#000000"]},"legend":null}}}]},
  {"transform":[{"filter":{"field":"s","oneOf":["Cells (Wild)","Ethanol (Wild)","Cells (Adapted )","Ethanol (Adapted)"]}}],"encoding":{"x":{"field":"t","type":"quantitative","scale":{"domain":[0,73],"nice":false},"axis":{"values":[0,24,48,72],"title":"Time (h)","titlePadding":0,"labelPadding":6,"ticks":false}},"y":{"field":"v","type":"quantitative","scale":{"domain":[0,35],"nice":false},"axis":{"orient":"right","values":[0,10,20,30],"title":"Ethanol, Cells (g/L)"}}},"layer":[
   {"mark":{"type":"line","interpolate":"cardinal","clip":true},"encoding":{"color":{"field":"s","type":"nominal","scale":{"domain":["Glucose (Wild)","Xylose (Wild)","Glucose (Adapted )","Xylose (Adapted)","Cells (Wild)","Ethanol (Wild)","Cells (Adapted )","Ethanol (Adapted)"],"range":["#a6a6a6","#a6a6a6","#000000","#000000","#a6a6a6","#a6a6a6","#000000","#000000"]},"legend":null},"strokeDash":{"field":"s","type":"nominal","scale":{"domain":["Glucose (Wild)","Xylose (Wild)","Glucose (Adapted )","Xylose (Adapted)","Cells (Wild)","Ethanol (Wild)","Cells (Adapted )","Ethanol (Adapted)"],"range":[[1,0],[1,0],[4,3],[4,3],[1,0],[1,0],[4,3],[4,3]]},"legend":null},"strokeWidth":{"field":"s","type":"nominal","scale":{"domain":["Glucose (Wild)","Xylose (Wild)","Glucose (Adapted )","Xylose (Adapted)","Cells (Wild)","Ethanol (Wild)","Cells (Adapted )","Ethanol (Adapted)"],"range":[2,2,1.6,1.6,2,2,1.6,1.6]},"legend":null}}},
   {"transform":[{"filter":"isValid(datum.lo)"}],"mark":{"type":"errorbar","ticks":true,"size":6,"thickness":1,"color":"#8c8c8c"},"encoding":{"y":{"field":"lo","type":"quantitative","scale":{"domain":[0,35],"nice":false},"axis":{"orient":"right","values":[0,10,20,30],"title":"Ethanol, Cells (g/L)"}},"y2":{"field":"hi"}}},
   {"mark":{"type":"point","size":60,"strokeWidth":1,"opacity":1},"encoding":{"shape":{"field":"s","type":"nominal","scale":{"domain":["Glucose (Wild)","Xylose (Wild)","Glucose (Adapted )","Xylose (Adapted)","Cells (Wild)","Ethanol (Wild)","Cells (Adapted )","Ethanol (Adapted)"],"range":["triangle-up","circle","triangle-up","circle","M0,-1.2L1.2,0L0,1.2L-1.2,0Z","square","M0,-1.2L1.2,0L0,1.2L-1.2,0Z","square"]},"legend":null},"fill":{"field":"s","type":"nominal","scale":{"domain":["Glucose (Wild)","Xylose (Wild)","Glucose (Adapted )","Xylose (Adapted)","Cells (Wild)","Ethanol (Wild)","Cells (Adapted )","Ethanol (Adapted)"],"range":["#a0a0a0","#a0a0a0","#ffffff","#ffffff","#a0a0a0","#a0a0a0","#ffffff","#ffffff"]},"legend":null},"stroke":{"field":"s","type":"nominal","scale":{"domain":["Glucose (Wild)","Xylose (Wild)","Glucose (Adapted )","Xylose (Adapted)","Cells (Wild)","Ethanol (Wild)","Cells (Adapted )","Ethanol (Adapted)"],"range":["#a0a0a0","#a0a0a0","#000000","#000000","#a0a0a0","#a0a0a0","#000000","#000000"]},"legend":null}}}]}
 ],"resolve":{"scale":{"y":"independent"}}}]},
 {"title":{"text":"C","anchor":"start","fontSize":17,"dx":12,"dy":28,"offset":0},"vconcat":[{"title":"0.7 g/L of Acetic Acid","width":398,"height":224,"transform":[{"filter":"datum.p=='C'"}],"layer":[
  {"transform":[{"filter":{"field":"s","oneOf":["Glucose (Wild)","Xylose (Wild)","Glucose (Adapted )","Xylose (Adapted)"]}}],"encoding":{"x":{"field":"t","type":"quantitative","scale":{"domain":[0,73],"nice":false},"axis":{"values":[0,24,48,72],"title":"Time (h)","titlePadding":0,"labelPadding":6,"ticks":false}},"y":{"field":"v","type":"quantitative","scale":{"domain":[0,70],"nice":false},"axis":{"orient":"left","values":[0,20,40,60],"title":"Glucose, Xylose (g/L)"}}},"layer":[
   {"mark":{"type":"line","interpolate":"cardinal","clip":true},"encoding":{"color":{"field":"s","type":"nominal","scale":{"domain":["Glucose (Wild)","Xylose (Wild)","Glucose (Adapted )","Xylose (Adapted)","Cells (Wild)","Ethanol (Wild)","Cells (Adapted )","Ethanol (Adapted)"],"range":["#a6a6a6","#a6a6a6","#000000","#000000","#a6a6a6","#a6a6a6","#000000","#000000"]},"legend":null},"strokeDash":{"field":"s","type":"nominal","scale":{"domain":["Glucose (Wild)","Xylose (Wild)","Glucose (Adapted )","Xylose (Adapted)","Cells (Wild)","Ethanol (Wild)","Cells (Adapted )","Ethanol (Adapted)"],"range":[[1,0],[1,0],[4,3],[4,3],[1,0],[1,0],[4,3],[4,3]]},"legend":null},"strokeWidth":{"field":"s","type":"nominal","scale":{"domain":["Glucose (Wild)","Xylose (Wild)","Glucose (Adapted )","Xylose (Adapted)","Cells (Wild)","Ethanol (Wild)","Cells (Adapted )","Ethanol (Adapted)"],"range":[2,2,1.6,1.6,2,2,1.6,1.6]},"legend":null}}},
   {"transform":[{"filter":"isValid(datum.lo)"}],"mark":{"type":"errorbar","ticks":true,"size":6,"thickness":1,"color":"#8c8c8c"},"encoding":{"y":{"field":"lo","type":"quantitative","scale":{"domain":[0,70],"nice":false},"axis":{"orient":"left","values":[0,20,40,60],"title":"Glucose, Xylose (g/L)"}},"y2":{"field":"hi"}}},
   {"mark":{"type":"point","size":60,"strokeWidth":1,"opacity":1},"encoding":{"shape":{"field":"s","type":"nominal","scale":{"domain":["Glucose (Wild)","Xylose (Wild)","Glucose (Adapted )","Xylose (Adapted)","Cells (Wild)","Ethanol (Wild)","Cells (Adapted )","Ethanol (Adapted)"],"range":["triangle-up","circle","triangle-up","circle","M0,-1.2L1.2,0L0,1.2L-1.2,0Z","square","M0,-1.2L1.2,0L0,1.2L-1.2,0Z","square"]},"legend":null},"fill":{"field":"s","type":"nominal","scale":{"domain":["Glucose (Wild)","Xylose (Wild)","Glucose (Adapted )","Xylose (Adapted)","Cells (Wild)","Ethanol (Wild)","Cells (Adapted )","Ethanol (Adapted)"],"range":["#a0a0a0","#a0a0a0","#ffffff","#ffffff","#a0a0a0","#a0a0a0","#ffffff","#ffffff"]},"legend":null},"stroke":{"field":"s","type":"nominal","scale":{"domain":["Glucose (Wild)","Xylose (Wild)","Glucose (Adapted )","Xylose (Adapted)","Cells (Wild)","Ethanol (Wild)","Cells (Adapted )","Ethanol (Adapted)"],"range":["#a0a0a0","#a0a0a0","#000000","#000000","#a0a0a0","#a0a0a0","#000000","#000000"]},"legend":null}}}]},
  {"transform":[{"filter":{"field":"s","oneOf":["Cells (Wild)","Ethanol (Wild)","Cells (Adapted )","Ethanol (Adapted)"]}}],"encoding":{"x":{"field":"t","type":"quantitative","scale":{"domain":[0,73],"nice":false},"axis":{"values":[0,24,48,72],"title":"Time (h)","titlePadding":0,"labelPadding":6,"ticks":false}},"y":{"field":"v","type":"quantitative","scale":{"domain":[0,35],"nice":false},"axis":{"orient":"right","values":[0,10,20,30],"title":"Ethanol, Cells (g/L)"}}},"layer":[
   {"mark":{"type":"line","interpolate":"cardinal","clip":true},"encoding":{"color":{"field":"s","type":"nominal","scale":{"domain":["Glucose (Wild)","Xylose (Wild)","Glucose (Adapted )","Xylose (Adapted)","Cells (Wild)","Ethanol (Wild)","Cells (Adapted )","Ethanol (Adapted)"],"range":["#a6a6a6","#a6a6a6","#000000","#000000","#a6a6a6","#a6a6a6","#000000","#000000"]},"legend":null},"strokeDash":{"field":"s","type":"nominal","scale":{"domain":["Glucose (Wild)","Xylose (Wild)","Glucose (Adapted )","Xylose (Adapted)","Cells (Wild)","Ethanol (Wild)","Cells (Adapted )","Ethanol (Adapted)"],"range":[[1,0],[1,0],[4,3],[4,3],[1,0],[1,0],[4,3],[4,3]]},"legend":null},"strokeWidth":{"field":"s","type":"nominal","scale":{"domain":["Glucose (Wild)","Xylose (Wild)","Glucose (Adapted )","Xylose (Adapted)","Cells (Wild)","Ethanol (Wild)","Cells (Adapted )","Ethanol (Adapted)"],"range":[2,2,1.6,1.6,2,2,1.6,1.6]},"legend":null}}},
   {"transform":[{"filter":"isValid(datum.lo)"}],"mark":{"type":"errorbar","ticks":true,"size":6,"thickness":1,"color":"#8c8c8c"},"encoding":{"y":{"field":"lo","type":"quantitative","scale":{"domain":[0,35],"nice":false},"axis":{"orient":"right","values":[0,10,20,30],"title":"Ethanol, Cells (g/L)"}},"y2":{"field":"hi"}}},
   {"mark":{"type":"point","size":60,"strokeWidth":1,"opacity":1},"encoding":{"shape":{"field":"s","type":"nominal","scale":{"domain":["Glucose (Wild)","Xylose (Wild)","Glucose (Adapted )","Xylose (Adapted)","Cells (Wild)","Ethanol (Wild)","Cells (Adapted )","Ethanol (Adapted)"],"range":["triangle-up","circle","triangle-up","circle","M0,-1.2L1.2,0L0,1.2L-1.2,0Z","square","M0,-1.2L1.2,0L0,1.2L-1.2,0Z","square"]},"legend":null},"fill":{"field":"s","type":"nominal","scale":{"domain":["Glucose (Wild)","Xylose (Wild)","Glucose (Adapted )","Xylose (Adapted)","Cells (Wild)","Ethanol (Wild)","Cells (Adapted )","Ethanol (Adapted)"],"range":["#a0a0a0","#a0a0a0","#ffffff","#ffffff","#a0a0a0","#a0a0a0","#ffffff","#ffffff"]},"legend":null},"stroke":{"field":"s","type":"nominal","scale":{"domain":["Glucose (Wild)","Xylose (Wild)","Glucose (Adapted )","Xylose (Adapted)","Cells (Wild)","Ethanol (Wild)","Cells (Adapted )","Ethanol (Adapted)"],"range":["#a0a0a0","#a0a0a0","#000000","#000000","#a0a0a0","#a0a0a0","#000000","#000000"]},"legend":null}}}]}
 ],"resolve":{"scale":{"y":"independent"}}}]}
],"spacing":17},
{"hconcat":[
 {"title":{"text":"D","anchor":"start","fontSize":17,"dx":12,"dy":28,"offset":0},"vconcat":[{"title":"1.1 g/L of Acetic Acid","width":398,"height":226,"transform":[{"filter":"datum.p=='D'"}],"layer":[
  {"transform":[{"filter":{"field":"s","oneOf":["Glucose (Wild)","Xylose (Wild)","Glucose (Adapted )","Xylose (Adapted)"]}}],"encoding":{"x":{"field":"t","type":"quantitative","scale":{"domain":[0,73],"nice":false},"axis":{"values":[0,24,48,72],"title":"Time (h)","titlePadding":0,"labelPadding":6,"ticks":false}},"y":{"field":"v","type":"quantitative","scale":{"domain":[0,70],"nice":false},"axis":{"orient":"left","values":[0,20,40,60],"title":"Glucose, Xylose (g/L)"}}},"layer":[
   {"mark":{"type":"line","interpolate":"cardinal","clip":true},"encoding":{"color":{"field":"s","type":"nominal","scale":{"domain":["Glucose (Wild)","Xylose (Wild)","Glucose (Adapted )","Xylose (Adapted)","Cells (Wild)","Ethanol (Wild)","Cells (Adapted )","Ethanol (Adapted)"],"range":["#a6a6a6","#a6a6a6","#000000","#000000","#a6a6a6","#a6a6a6","#000000","#000000"]},"legend":null},"strokeDash":{"field":"s","type":"nominal","scale":{"domain":["Glucose (Wild)","Xylose (Wild)","Glucose (Adapted )","Xylose (Adapted)","Cells (Wild)","Ethanol (Wild)","Cells (Adapted )","Ethanol (Adapted)"],"range":[[1,0],[1,0],[4,3],[4,3],[1,0],[1,0],[4,3],[4,3]]},"legend":null},"strokeWidth":{"field":"s","type":"nominal","scale":{"domain":["Glucose (Wild)","Xylose (Wild)","Glucose (Adapted )","Xylose (Adapted)","Cells (Wild)","Ethanol (Wild)","Cells (Adapted )","Ethanol (Adapted)"],"range":[2,2,1.6,1.6,2,2,1.6,1.6]},"legend":null}}},
   {"transform":[{"filter":"isValid(datum.lo)"}],"mark":{"type":"errorbar","ticks":true,"size":6,"thickness":1,"color":"#8c8c8c"},"encoding":{"y":{"field":"lo","type":"quantitative","scale":{"domain":[0,70],"nice":false},"axis":{"orient":"left","values":[0,20,40,60],"title":"Glucose, Xylose (g/L)"}},"y2":{"field":"hi"}}},
   {"mark":{"type":"point","size":60,"strokeWidth":1,"opacity":1},"encoding":{"shape":{"field":"s","type":"nominal","scale":{"domain":["Glucose (Wild)","Xylose (Wild)","Glucose (Adapted )","Xylose (Adapted)","Cells (Wild)","Ethanol (Wild)","Cells (Adapted )","Ethanol (Adapted)"],"range":["triangle-up","circle","triangle-up","circle","M0,-1.2L1.2,0L0,1.2L-1.2,0Z","square","M0,-1.2L1.2,0L0,1.2L-1.2,0Z","square"]},"legend":null},"fill":{"field":"s","type":"nominal","scale":{"domain":["Glucose (Wild)","Xylose (Wild)","Glucose (Adapted )","Xylose (Adapted)","Cells (Wild)","Ethanol (Wild)","Cells (Adapted )","Ethanol (Adapted)"],"range":["#a0a0a0","#a0a0a0","#ffffff","#ffffff","#a0a0a0","#a0a0a0","#ffffff","#ffffff"]},"legend":null},"stroke":{"field":"s","type":"nominal","scale":{"domain":["Glucose (Wild)","Xylose (Wild)","Glucose (Adapted )","Xylose (Adapted)","Cells (Wild)","Ethanol (Wild)","Cells (Adapted )","Ethanol (Adapted)"],"range":["#a0a0a0","#a0a0a0","#000000","#000000","#a0a0a0","#a0a0a0","#000000","#000000"]},"legend":null}}}]},
  {"transform":[{"filter":{"field":"s","oneOf":["Cells (Wild)","Ethanol (Wild)","Cells (Adapted )","Ethanol (Adapted)"]}}],"encoding":{"x":{"field":"t","type":"quantitative","scale":{"domain":[0,73],"nice":false},"axis":{"values":[0,24,48,72],"title":"Time (h)","titlePadding":0,"labelPadding":6,"ticks":false}},"y":{"field":"v","type":"quantitative","scale":{"domain":[0,35],"nice":false},"axis":{"orient":"right","values":[0,10,20,30],"title":"Ethanol, Cells (g/L)"}}},"layer":[
   {"mark":{"type":"line","interpolate":"cardinal","clip":true},"encoding":{"color":{"field":"s","type":"nominal","scale":{"domain":["Glucose (Wild)","Xylose (Wild)","Glucose (Adapted )","Xylose (Adapted)","Cells (Wild)","Ethanol (Wild)","Cells (Adapted )","Ethanol (Adapted)"],"range":["#a6a6a6","#a6a6a6","#000000","#000000","#a6a6a6","#a6a6a6","#000000","#000000"]},"legend":null},"strokeDash":{"field":"s","type":"nominal","scale":{"domain":["Glucose (Wild)","Xylose (Wild)","Glucose (Adapted )","Xylose (Adapted)","Cells (Wild)","Ethanol (Wild)","Cells (Adapted )","Ethanol (Adapted)"],"range":[[1,0],[1,0],[4,3],[4,3],[1,0],[1,0],[4,3],[4,3]]},"legend":null},"strokeWidth":{"field":"s","type":"nominal","scale":{"domain":["Glucose (Wild)","Xylose (Wild)","Glucose (Adapted )","Xylose (Adapted)","Cells (Wild)","Ethanol (Wild)","Cells (Adapted )","Ethanol (Adapted)"],"range":[2,2,1.6,1.6,2,2,1.6,1.6]},"legend":null}}},
   {"transform":[{"filter":"isValid(datum.lo)"}],"mark":{"type":"errorbar","ticks":true,"size":6,"thickness":1,"color":"#8c8c8c"},"encoding":{"y":{"field":"lo","type":"quantitative","scale":{"domain":[0,35],"nice":false},"axis":{"orient":"right","values":[0,10,20,30],"title":"Ethanol, Cells (g/L)"}},"y2":{"field":"hi"}}},
   {"mark":{"type":"point","size":60,"strokeWidth":1,"opacity":1},"encoding":{"shape":{"field":"s","type":"nominal","scale":{"domain":["Glucose (Wild)","Xylose (Wild)","Glucose (Adapted )","Xylose (Adapted)","Cells (Wild)","Ethanol (Wild)","Cells (Adapted )","Ethanol (Adapted)"],"range":["triangle-up","circle","triangle-up","circle","M0,-1.2L1.2,0L0,1.2L-1.2,0Z","square","M0,-1.2L1.2,0L0,1.2L-1.2,0Z","square"]},"legend":null},"fill":{"field":"s","type":"nominal","scale":{"domain":["Glucose (Wild)","Xylose (Wild)","Glucose (Adapted )","Xylose (Adapted)","Cells (Wild)","Ethanol (Wild)","Cells (Adapted )","Ethanol (Adapted)"],"range":["#a0a0a0","#a0a0a0","#ffffff","#ffffff","#a0a0a0","#a0a0a0","#ffffff","#ffffff"]},"legend":null},"stroke":{"field":"s","type":"nominal","scale":{"domain":["Glucose (Wild)","Xylose (Wild)","Glucose (Adapted )","Xylose (Adapted)","Cells (Wild)","Ethanol (Wild)","Cells (Adapted )","Ethanol (Adapted)"],"range":["#a0a0a0","#a0a0a0","#000000","#000000","#a0a0a0","#a0a0a0","#000000","#000000"]},"legend":null}}}]}
 ],"resolve":{"scale":{"y":"independent"}}}]},
 {"title":{"text":"E","anchor":"start","fontSize":17,"dx":12,"dy":28,"offset":0},"vconcat":[{"title":"1.7 g/L of Acetic Acid","width":398,"height":226,"transform":[{"filter":"datum.p=='E'"}],"layer":[
  {"transform":[{"filter":{"field":"s","oneOf":["Glucose (Wild)","Xylose (Wild)","Glucose (Adapted )","Xylose (Adapted)"]}}],"encoding":{"x":{"field":"t","type":"quantitative","scale":{"domain":[0,73],"nice":false},"axis":{"values":[0,24,48,72],"title":"Time (h)","titlePadding":0,"labelPadding":6,"ticks":false}},"y":{"field":"v","type":"quantitative","scale":{"domain":[0,70],"nice":false},"axis":{"orient":"left","values":[0,20,40,60],"title":"Glucose, Xylose (g/L)"}}},"layer":[
   {"mark":{"type":"line","interpolate":"cardinal","clip":true},"encoding":{"color":{"field":"s","type":"nominal","scale":{"domain":["Glucose (Wild)","Xylose (Wild)","Glucose (Adapted )","Xylose (Adapted)","Cells (Wild)","Ethanol (Wild)","Cells (Adapted )","Ethanol (Adapted)"],"range":["#a6a6a6","#a6a6a6","#000000","#000000","#a6a6a6","#a6a6a6","#000000","#000000"]},"legend":null},"strokeDash":{"field":"s","type":"nominal","scale":{"domain":["Glucose (Wild)","Xylose (Wild)","Glucose (Adapted )","Xylose (Adapted)","Cells (Wild)","Ethanol (Wild)","Cells (Adapted )","Ethanol (Adapted)"],"range":[[1,0],[1,0],[4,3],[4,3],[1,0],[1,0],[4,3],[4,3]]},"legend":null},"strokeWidth":{"field":"s","type":"nominal","scale":{"domain":["Glucose (Wild)","Xylose (Wild)","Glucose (Adapted )","Xylose (Adapted)","Cells (Wild)","Ethanol (Wild)","Cells (Adapted )","Ethanol (Adapted)"],"range":[2,2,1.6,1.6,2,2,1.6,1.6]},"legend":null}}},
   {"transform":[{"filter":"isValid(datum.lo)"}],"mark":{"type":"errorbar","ticks":true,"size":6,"thickness":1,"color":"#8c8c8c"},"encoding":{"y":{"field":"lo","type":"quantitative","scale":{"domain":[0,70],"nice":false},"axis":{"orient":"left","values":[0,20,40,60],"title":"Glucose, Xylose (g/L)"}},"y2":{"field":"hi"}}},
   {"mark":{"type":"point","size":60,"strokeWidth":1,"opacity":1},"encoding":{"shape":{"field":"s","type":"nominal","scale":{"domain":["Glucose (Wild)","Xylose (Wild)","Glucose (Adapted )","Xylose (Adapted)","Cells (Wild)","Ethanol (Wild)","Cells (Adapted )","Ethanol (Adapted)"],"range":["triangle-up","circle","triangle-up","circle","M0,-1.2L1.2,0L0,1.2L-1.2,0Z","square","M0,-1.2L1.2,0L0,1.2L-1.2,0Z","square"]},"legend":null},"fill":{"field":"s","type":"nominal","scale":{"domain":["Glucose (Wild)","Xylose (Wild)","Glucose (Adapted )","Xylose (Adapted)","Cells (Wild)","Ethanol (Wild)","Cells (Adapted )","Ethanol (Adapted)"],"range":["#a0a0a0","#a0a0a0","#ffffff","#ffffff","#a0a0a0","#a0a0a0","#ffffff","#ffffff"]},"legend":null},"stroke":{"field":"s","type":"nominal","scale":{"domain":["Glucose (Wild)","Xylose (Wild)","Glucose (Adapted )","Xylose (Adapted)","Cells (Wild)","Ethanol (Wild)","Cells (Adapted )","Ethanol (Adapted)"],"range":["#a0a0a0","#a0a0a0","#000000","#000000","#a0a0a0","#a0a0a0","#000000","#000000"]},"legend":null}}}]},
  {"transform":[{"filter":{"field":"s","oneOf":["Cells (Wild)","Ethanol (Wild)","Cells (Adapted )","Ethanol (Adapted)"]}}],"encoding":{"x":{"field":"t","type":"quantitative","scale":{"domain":[0,73],"nice":false},"axis":{"values":[0,24,48,72],"title":"Time (h)","titlePadding":0,"labelPadding":6,"ticks":false}},"y":{"field":"v","type":"quantitative","scale":{"domain":[0,35],"nice":false},"axis":{"orient":"right","values":[0,10,20,30],"title":"Ethanol, Cells (g/L)"}}},"layer":[
   {"mark":{"type":"line","interpolate":"cardinal","clip":true},"encoding":{"color":{"field":"s","type":"nominal","scale":{"domain":["Glucose (Wild)","Xylose (Wild)","Glucose (Adapted )","Xylose (Adapted)","Cells (Wild)","Ethanol (Wild)","Cells (Adapted )","Ethanol (Adapted)"],"range":["#a6a6a6","#a6a6a6","#000000","#000000","#a6a6a6","#a6a6a6","#000000","#000000"]},"legend":null},"strokeDash":{"field":"s","type":"nominal","scale":{"domain":["Glucose (Wild)","Xylose (Wild)","Glucose (Adapted )","Xylose (Adapted)","Cells (Wild)","Ethanol (Wild)","Cells (Adapted )","Ethanol (Adapted)"],"range":[[1,0],[1,0],[4,3],[4,3],[1,0],[1,0],[4,3],[4,3]]},"legend":null},"strokeWidth":{"field":"s","type":"nominal","scale":{"domain":["Glucose (Wild)","Xylose (Wild)","Glucose (Adapted )","Xylose (Adapted)","Cells (Wild)","Ethanol (Wild)","Cells (Adapted )","Ethanol (Adapted)"],"range":[2,2,1.6,1.6,2,2,1.6,1.6]},"legend":null}}},
   {"transform":[{"filter":"isValid(datum.lo)"}],"mark":{"type":"errorbar","ticks":true,"size":6,"thickness":1,"color":"#8c8c8c"},"encoding":{"y":{"field":"lo","type":"quantitative","scale":{"domain":[0,35],"nice":false},"axis":{"orient":"right","values":[0,10,20,30],"title":"Ethanol, Cells (g/L)"}},"y2":{"field":"hi"}}},
   {"mark":{"type":"point","size":60,"strokeWidth":1,"opacity":1},"encoding":{"shape":{"field":"s","type":"nominal","scale":{"domain":["Glucose (Wild)","Xylose (Wild)","Glucose (Adapted )","Xylose (Adapted)","Cells (Wild)","Ethanol (Wild)","Cells (Adapted )","Ethanol (Adapted)"],"range":["triangle-up","circle","triangle-up","circle","M0,-1.2L1.2,0L0,1.2L-1.2,0Z","square","M0,-1.2L1.2,0L0,1.2L-1.2,0Z","square"]},"legend":null},"fill":{"field":"s","type":"nominal","scale":{"domain":["Glucose (Wild)","Xylose (Wild)","Glucose (Adapted )","Xylose (Adapted)","Cells (Wild)","Ethanol (Wild)","Cells (Adapted )","Ethanol (Adapted)"],"range":["#a0a0a0","#a0a0a0","#ffffff","#ffffff","#a0a0a0","#a0a0a0","#ffffff","#ffffff"]},"legend":null},"stroke":{"field":"s","type":"nominal","scale":{"domain":["Glucose (Wild)","Xylose (Wild)","Glucose (Adapted )","Xylose (Adapted)","Cells (Wild)","Ethanol (Wild)","Cells (Adapted )","Ethanol (Adapted)"],"range":["#a0a0a0","#a0a0a0","#000000","#000000","#a0a0a0","#a0a0a0","#000000","#000000"]},"legend":null}}}]}
 ],"resolve":{"scale":{"y":"independent"}}}]}
],"spacing":17},
{"hconcat":[
 {"title":{"text":"F","anchor":"start","fontSize":17,"dx":12,"dy":28,"offset":0},"vconcat":[{"title":"2.2 g/L of Acetic Acid","width":398,"height":226,"transform":[{"filter":"datum.p=='F'"}],"layer":[
  {"transform":[{"filter":{"field":"s","oneOf":["Glucose (Wild)","Xylose (Wild)","Glucose (Adapted )","Xylose (Adapted)"]}}],"encoding":{"x":{"field":"t","type":"quantitative","scale":{"domain":[0,73],"nice":false},"axis":{"values":[0,24,48,72],"title":"Time (h)","titlePadding":0,"labelPadding":6,"ticks":false}},"y":{"field":"v","type":"quantitative","scale":{"domain":[0,70],"nice":false},"axis":{"orient":"left","values":[0,20,40,60],"title":"Glucose, Xylose (g/L)"}}},"layer":[
   {"mark":{"type":"line","interpolate":"cardinal","clip":true},"encoding":{"color":{"field":"s","type":"nominal","scale":{"domain":["Glucose (Wild)","Xylose (Wild)","Glucose (Adapted )","Xylose (Adapted)","Cells (Wild)","Ethanol (Wild)","Cells (Adapted )","Ethanol (Adapted)"],"range":["#a6a6a6","#a6a6a6","#000000","#000000","#a6a6a6","#a6a6a6","#000000","#000000"]},"legend":null},"strokeDash":{"field":"s","type":"nominal","scale":{"domain":["Glucose (Wild)","Xylose (Wild)","Glucose (Adapted )","Xylose (Adapted)","Cells (Wild)","Ethanol (Wild)","Cells (Adapted )","Ethanol (Adapted)"],"range":[[1,0],[1,0],[4,3],[4,3],[1,0],[1,0],[4,3],[4,3]]},"legend":null},"strokeWidth":{"field":"s","type":"nominal","scale":{"domain":["Glucose (Wild)","Xylose (Wild)","Glucose (Adapted )","Xylose (Adapted)","Cells (Wild)","Ethanol (Wild)","Cells (Adapted )","Ethanol (Adapted)"],"range":[2,2,1.6,1.6,2,2,1.6,1.6]},"legend":null}}},
   {"transform":[{"filter":"isValid(datum.lo)"}],"mark":{"type":"errorbar","ticks":true,"size":6,"thickness":1,"color":"#8c8c8c"},"encoding":{"y":{"field":"lo","type":"quantitative","scale":{"domain":[0,70],"nice":false},"axis":{"orient":"left","values":[0,20,40,60],"title":"Glucose, Xylose (g/L)"}},"y2":{"field":"hi"}}},
   {"mark":{"type":"point","size":60,"strokeWidth":1,"opacity":1},"encoding":{"shape":{"field":"s","type":"nominal","scale":{"domain":["Glucose (Wild)","Xylose (Wild)","Glucose (Adapted )","Xylose (Adapted)","Cells (Wild)","Ethanol (Wild)","Cells (Adapted )","Ethanol (Adapted)"],"range":["triangle-up","circle","triangle-up","circle","M0,-1.2L1.2,0L0,1.2L-1.2,0Z","square","M0,-1.2L1.2,0L0,1.2L-1.2,0Z","square"]},"legend":null},"fill":{"field":"s","type":"nominal","scale":{"domain":["Glucose (Wild)","Xylose (Wild)","Glucose (Adapted )","Xylose (Adapted)","Cells (Wild)","Ethanol (Wild)","Cells (Adapted )","Ethanol (Adapted)"],"range":["#a0a0a0","#a0a0a0","#ffffff","#ffffff","#a0a0a0","#a0a0a0","#ffffff","#ffffff"]},"legend":null},"stroke":{"field":"s","type":"nominal","scale":{"domain":["Glucose (Wild)","Xylose (Wild)","Glucose (Adapted )","Xylose (Adapted)","Cells (Wild)","Ethanol (Wild)","Cells (Adapted )","Ethanol (Adapted)"],"range":["#a0a0a0","#a0a0a0","#000000","#000000","#a0a0a0","#a0a0a0","#000000","#000000"]},"legend":null}}}]},
  {"transform":[{"filter":{"field":"s","oneOf":["Cells (Wild)","Ethanol (Wild)","Cells (Adapted )","Ethanol (Adapted)"]}}],"encoding":{"x":{"field":"t","type":"quantitative","scale":{"domain":[0,73],"nice":false},"axis":{"values":[0,24,48,72],"title":"Time (h)","titlePadding":0,"labelPadding":6,"ticks":false}},"y":{"field":"v","type":"quantitative","scale":{"domain":[0,35],"nice":false},"axis":{"orient":"right","values":[0,10,20,30],"title":"Ethanol, Cells (g/L)"}}},"layer":[
   {"mark":{"type":"line","interpolate":"cardinal","clip":true},"encoding":{"color":{"field":"s","type":"nominal","scale":{"domain":["Glucose (Wild)","Xylose (Wild)","Glucose (Adapted )","Xylose (Adapted)","Cells (Wild)","Ethanol (Wild)","Cells (Adapted )","Ethanol (Adapted)"],"range":["#a6a6a6","#a6a6a6","#000000","#000000","#a6a6a6","#a6a6a6","#000000","#000000"]},"legend":null},"strokeDash":{"field":"s","type":"nominal","scale":{"domain":["Glucose (Wild)","Xylose (Wild)","Glucose (Adapted )","Xylose (Adapted)","Cells (Wild)","Ethanol (Wild)","Cells (Adapted )","Ethanol (Adapted)"],"range":[[1,0],[1,0],[4,3],[4,3],[1,0],[1,0],[4,3],[4,3]]},"legend":null},"strokeWidth":{"field":"s","type":"nominal","scale":{"domain":["Glucose (Wild)","Xylose (Wild)","Glucose (Adapted )","Xylose (Adapted)","Cells (Wild)","Ethanol (Wild)","Cells (Adapted )","Ethanol (Adapted)"],"range":[2,2,1.6,1.6,2,2,1.6,1.6]},"legend":null}}},
   {"transform":[{"filter":"isValid(datum.lo)"}],"mark":{"type":"errorbar","ticks":true,"size":6,"thickness":1,"color":"#8c8c8c"},"encoding":{"y":{"field":"lo","type":"quantitative","scale":{"domain":[0,35],"nice":false},"axis":{"orient":"right","values":[0,10,20,30],"title":"Ethanol, Cells (g/L)"}},"y2":{"field":"hi"}}},
   {"mark":{"type":"point","size":60,"strokeWidth":1,"opacity":1},"encoding":{"shape":{"field":"s","type":"nominal","scale":{"domain":["Glucose (Wild)","Xylose (Wild)","Glucose (Adapted )","Xylose (Adapted)","Cells (Wild)","Ethanol (Wild)","Cells (Adapted )","Ethanol (Adapted)"],"range":["triangle-up","circle","triangle-up","circle","M0,-1.2L1.2,0L0,1.2L-1.2,0Z","square","M0,-1.2L1.2,0L0,1.2L-1.2,0Z","square"]},"legend":null},"fill":{"field":"s","type":"nominal","scale":{"domain":["Glucose (Wild)","Xylose (Wild)","Glucose (Adapted )","Xylose (Adapted)","Cells (Wild)","Ethanol (Wild)","Cells (Adapted )","Ethanol (Adapted)"],"range":["#a0a0a0","#a0a0a0","#ffffff","#ffffff","#a0a0a0","#a0a0a0","#ffffff","#ffffff"]},"legend":null},"stroke":{"field":"s","type":"nominal","scale":{"domain":["Glucose (Wild)","Xylose (Wild)","Glucose (Adapted )","Xylose (Adapted)","Cells (Wild)","Ethanol (Wild)","Cells (Adapted )","Ethanol (Adapted)"],"range":["#a0a0a0","#a0a0a0","#000000","#000000","#a0a0a0","#a0a0a0","#000000","#000000"]},"legend":null}}}]}
 ],"resolve":{"scale":{"y":"independent"}}}]},
 {"title":{"text":"G","anchor":"start","fontSize":17,"dx":12,"dy":28,"offset":0},"vconcat":[{"title":"2.6 g/L of Acetic Acid","width":398,"height":226,"transform":[{"filter":"datum.p=='G'"}],"layer":[
  {"transform":[{"filter":{"field":"s","oneOf":["Glucose (Wild)","Xylose (Wild)","Glucose (Adapted )","Xylose (Adapted)"]}}],"encoding":{"x":{"field":"t","type":"quantitative","scale":{"domain":[0,73],"nice":false},"axis":{"values":[0,24,48,72],"title":"Time (h)","titlePadding":0,"labelPadding":6,"ticks":false}},"y":{"field":"v","type":"quantitative","scale":{"domain":[0,70],"nice":false},"axis":{"orient":"left","values":[0,20,40,60],"title":"Glucose, Xylose (g/L)"}}},"layer":[
   {"mark":{"type":"line","interpolate":"cardinal","clip":true},"encoding":{"color":{"field":"s","type":"nominal","scale":{"domain":["Glucose (Wild)","Xylose (Wild)","Glucose (Adapted )","Xylose (Adapted)","Cells (Wild)","Ethanol (Wild)","Cells (Adapted )","Ethanol (Adapted)"],"range":["#a6a6a6","#a6a6a6","#000000","#000000","#a6a6a6","#a6a6a6","#000000","#000000"]},"legend":null},"strokeDash":{"field":"s","type":"nominal","scale":{"domain":["Glucose (Wild)","Xylose (Wild)","Glucose (Adapted )","Xylose (Adapted)","Cells (Wild)","Ethanol (Wild)","Cells (Adapted )","Ethanol (Adapted)"],"range":[[1,0],[1,0],[4,3],[4,3],[1,0],[1,0],[4,3],[4,3]]},"legend":null},"strokeWidth":{"field":"s","type":"nominal","scale":{"domain":["Glucose (Wild)","Xylose (Wild)","Glucose (Adapted )","Xylose (Adapted)","Cells (Wild)","Ethanol (Wild)","Cells (Adapted )","Ethanol (Adapted)"],"range":[2,2,1.6,1.6,2,2,1.6,1.6]},"legend":null}}},
   {"transform":[{"filter":"isValid(datum.lo)"}],"mark":{"type":"errorbar","ticks":true,"size":6,"thickness":1,"color":"#8c8c8c"},"encoding":{"y":{"field":"lo","type":"quantitative","scale":{"domain":[0,70],"nice":false},"axis":{"orient":"left","values":[0,20,40,60],"title":"Glucose, Xylose (g/L)"}},"y2":{"field":"hi"}}},
   {"mark":{"type":"point","size":60,"strokeWidth":1,"opacity":1},"encoding":{"shape":{"field":"s","type":"nominal","scale":{"domain":["Glucose (Wild)","Xylose (Wild)","Glucose (Adapted )","Xylose (Adapted)","Cells (Wild)","Ethanol (Wild)","Cells (Adapted )","Ethanol (Adapted)"],"range":["triangle-up","circle","triangle-up","circle","M0,-1.2L1.2,0L0,1.2L-1.2,0Z","square","M0,-1.2L1.2,0L0,1.2L-1.2,0Z","square"]},"legend":null},"fill":{"field":"s","type":"nominal","scale":{"domain":["Glucose (Wild)","Xylose (Wild)","Glucose (Adapted )","Xylose (Adapted)","Cells (Wild)","Ethanol (Wild)","Cells (Adapted )","Ethanol (Adapted)"],"range":["#a0a0a0","#a0a0a0","#ffffff","#ffffff","#a0a0a0","#a0a0a0","#ffffff","#ffffff"]},"legend":null},"stroke":{"field":"s","type":"nominal","scale":{"domain":["Glucose (Wild)","Xylose (Wild)","Glucose (Adapted )","Xylose (Adapted)","Cells (Wild)","Ethanol (Wild)","Cells (Adapted )","Ethanol (Adapted)"],"range":["#a0a0a0","#a0a0a0","#000000","#000000","#a0a0a0","#a0a0a0","#000000","#000000"]},"legend":null}}}]},
  {"transform":[{"filter":{"field":"s","oneOf":["Cells (Wild)","Ethanol (Wild)","Cells (Adapted )","Ethanol (Adapted)"]}}],"encoding":{"x":{"field":"t","type":"quantitative","scale":{"domain":[0,73],"nice":false},"axis":{"values":[0,24,48,72],"title":"Time (h)","titlePadding":0,"labelPadding":6,"ticks":false}},"y":{"field":"v","type":"quantitative","scale":{"domain":[0,35],"nice":false},"axis":{"orient":"right","values":[0,10,20,30],"title":"Ethanol, Cells (g/L)"}}},"layer":[
   {"mark":{"type":"line","interpolate":"cardinal","clip":true},"encoding":{"color":{"field":"s","type":"nominal","scale":{"domain":["Glucose (Wild)","Xylose (Wild)","Glucose (Adapted )","Xylose (Adapted)","Cells (Wild)","Ethanol (Wild)","Cells (Adapted )","Ethanol (Adapted)"],"range":["#a6a6a6","#a6a6a6","#000000","#000000","#a6a6a6","#a6a6a6","#000000","#000000"]},"legend":null},"strokeDash":{"field":"s","type":"nominal","scale":{"domain":["Glucose (Wild)","Xylose (Wild)","Glucose (Adapted )","Xylose (Adapted)","Cells (Wild)","Ethanol (Wild)","Cells (Adapted )","Ethanol (Adapted)"],"range":[[1,0],[1,0],[4,3],[4,3],[1,0],[1,0],[4,3],[4,3]]},"legend":null},"strokeWidth":{"field":"s","type":"nominal","scale":{"domain":["Glucose (Wild)","Xylose (Wild)","Glucose (Adapted )","Xylose (Adapted)","Cells (Wild)","Ethanol (Wild)","Cells (Adapted )","Ethanol (Adapted)"],"range":[2,2,1.6,1.6,2,2,1.6,1.6]},"legend":null}}},
   {"transform":[{"filter":"isValid(datum.lo)"}],"mark":{"type":"errorbar","ticks":true,"size":6,"thickness":1,"color":"#8c8c8c"},"encoding":{"y":{"field":"lo","type":"quantitative","scale":{"domain":[0,35],"nice":false},"axis":{"orient":"right","values":[0,10,20,30],"title":"Ethanol, Cells (g/L)"}},"y2":{"field":"hi"}}},
   {"mark":{"type":"point","size":60,"strokeWidth":1,"opacity":1},"encoding":{"shape":{"field":"s","type":"nominal","scale":{"domain":["Glucose (Wild)","Xylose (Wild)","Glucose (Adapted )","Xylose (Adapted)","Cells (Wild)","Ethanol (Wild)","Cells (Adapted )","Ethanol (Adapted)"],"range":["triangle-up","circle","triangle-up","circle","M0,-1.2L1.2,0L0,1.2L-1.2,0Z","square","M0,-1.2L1.2,0L0,1.2L-1.2,0Z","square"]},"legend":null},"fill":{"field":"s","type":"nominal","scale":{"domain":["Glucose (Wild)","Xylose (Wild)","Glucose (Adapted )","Xylose (Adapted)","Cells (Wild)","Ethanol (Wild)","Cells (Adapted )","Ethanol (Adapted)"],"range":["#a0a0a0","#a0a0a0","#ffffff","#ffffff","#a0a0a0","#a0a0a0","#ffffff","#ffffff"]},"legend":null},"stroke":{"field":"s","type":"nominal","scale":{"domain":["Glucose (Wild)","Xylose (Wild)","Glucose (Adapted )","Xylose (Adapted)","Cells (Wild)","Ethanol (Wild)","Cells (Adapted )","Ethanol (Adapted)"],"range":["#a0a0a0","#a0a0a0","#000000","#000000","#a0a0a0","#a0a0a0","#000000","#000000"]},"legend":null}}}]}
 ],"resolve":{"scale":{"y":"independent"}}}]}
],"spacing":17},
{"hconcat":[
 {"title":{"text":"H","anchor":"start","fontSize":17,"dx":12,"dy":28,"offset":0},"vconcat":[{"title":"3.2 g/L of Acetic Acid","width":398,"height":228,"transform":[{"filter":"datum.p=='H'"}],"layer":[
  {"transform":[{"filter":{"field":"s","oneOf":["Glucose (Wild)","Xylose (Wild)","Glucose (Adapted )","Xylose (Adapted)"]}}],"encoding":{"x":{"field":"t","type":"quantitative","scale":{"domain":[0,73],"nice":false},"axis":{"values":[0,24,48,72],"title":"Time (h)","titlePadding":0,"labelPadding":6,"ticks":false}},"y":{"field":"v","type":"quantitative","scale":{"domain":[0,70],"nice":false},"axis":{"orient":"left","values":[0,20,40,60],"title":"Glucose, Xylose (g/L)"}}},"layer":[
   {"mark":{"type":"line","interpolate":"cardinal","clip":true},"encoding":{"color":{"field":"s","type":"nominal","scale":{"domain":["Glucose (Wild)","Xylose (Wild)","Glucose (Adapted )","Xylose (Adapted)","Cells (Wild)","Ethanol (Wild)","Cells (Adapted )","Ethanol (Adapted)"],"range":["#a6a6a6","#a6a6a6","#000000","#000000","#a6a6a6","#a6a6a6","#000000","#000000"]},"legend":null},"strokeDash":{"field":"s","type":"nominal","scale":{"domain":["Glucose (Wild)","Xylose (Wild)","Glucose (Adapted )","Xylose (Adapted)","Cells (Wild)","Ethanol (Wild)","Cells (Adapted )","Ethanol (Adapted)"],"range":[[1,0],[1,0],[4,3],[4,3],[1,0],[1,0],[4,3],[4,3]]},"legend":null},"strokeWidth":{"field":"s","type":"nominal","scale":{"domain":["Glucose (Wild)","Xylose (Wild)","Glucose (Adapted )","Xylose (Adapted)","Cells (Wild)","Ethanol (Wild)","Cells (Adapted )","Ethanol (Adapted)"],"range":[2,2,1.6,1.6,2,2,1.6,1.6]},"legend":null}}},
   {"transform":[{"filter":"isValid(datum.lo)"}],"mark":{"type":"errorbar","ticks":true,"size":6,"thickness":1,"color":"#8c8c8c"},"encoding":{"y":{"field":"lo","type":"quantitative","scale":{"domain":[0,70],"nice":false},"axis":{"orient":"left","values":[0,20,40,60],"title":"Glucose, Xylose (g/L)"}},"y2":{"field":"hi"}}},
   {"mark":{"type":"point","size":60,"strokeWidth":1,"opacity":1},"encoding":{"shape":{"field":"s","type":"nominal","scale":{"domain":["Glucose (Wild)","Xylose (Wild)","Glucose (Adapted )","Xylose (Adapted)","Cells (Wild)","Ethanol (Wild)","Cells (Adapted )","Ethanol (Adapted)"],"range":["triangle-up","circle","triangle-up","circle","M0,-1.2L1.2,0L0,1.2L-1.2,0Z","square","M0,-1.2L1.2,0L0,1.2L-1.2,0Z","square"]},"legend":null},"fill":{"field":"s","type":"nominal","scale":{"domain":["Glucose (Wild)","Xylose (Wild)","Glucose (Adapted )","Xylose (Adapted)","Cells (Wild)","Ethanol (Wild)","Cells (Adapted )","Ethanol (Adapted)"],"range":["#a0a0a0","#a0a0a0","#ffffff","#ffffff","#a0a0a0","#a0a0a0","#ffffff","#ffffff"]},"legend":null},"stroke":{"field":"s","type":"nominal","scale":{"domain":["Glucose (Wild)","Xylose (Wild)","Glucose (Adapted )","Xylose (Adapted)","Cells (Wild)","Ethanol (Wild)","Cells (Adapted )","Ethanol (Adapted)"],"range":["#a0a0a0","#a0a0a0","#000000","#000000","#a0a0a0","#a0a0a0","#000000","#000000"]},"legend":null}}}]},
  {"transform":[{"filter":{"field":"s","oneOf":["Cells (Wild)","Ethanol (Wild)","Cells (Adapted )","Ethanol (Adapted)"]}}],"encoding":{"x":{"field":"t","type":"quantitative","scale":{"domain":[0,73],"nice":false},"axis":{"values":[0,24,48,72],"title":"Time (h)","titlePadding":0,"labelPadding":6,"ticks":false}},"y":{"field":"v","type":"quantitative","scale":{"domain":[0,35],"nice":false},"axis":{"orient":"right","values":[0,10,20,30],"title":"Ethanol, Cells (g/L)"}}},"layer":[
   {"mark":{"type":"line","interpolate":"cardinal","clip":true},"encoding":{"color":{"field":"s","type":"nominal","scale":{"domain":["Glucose (Wild)","Xylose (Wild)","Glucose (Adapted )","Xylose (Adapted)","Cells (Wild)","Ethanol (Wild)","Cells (Adapted )","Ethanol (Adapted)"],"range":["#a6a6a6","#a6a6a6","#000000","#000000","#a6a6a6","#a6a6a6","#000000","#000000"]},"legend":null},"strokeDash":{"field":"s","type":"nominal","scale":{"domain":["Glucose (Wild)","Xylose (Wild)","Glucose (Adapted )","Xylose (Adapted)","Cells (Wild)","Ethanol (Wild)","Cells (Adapted )","Ethanol (Adapted)"],"range":[[1,0],[1,0],[4,3],[4,3],[1,0],[1,0],[4,3],[4,3]]},"legend":null},"strokeWidth":{"field":"s","type":"nominal","scale":{"domain":["Glucose (Wild)","Xylose (Wild)","Glucose (Adapted )","Xylose (Adapted)","Cells (Wild)","Ethanol (Wild)","Cells (Adapted )","Ethanol (Adapted)"],"range":[2,2,1.6,1.6,2,2,1.6,1.6]},"legend":null}}},
   {"transform":[{"filter":"isValid(datum.lo)"}],"mark":{"type":"errorbar","ticks":true,"size":6,"thickness":1,"color":"#8c8c8c"},"encoding":{"y":{"field":"lo","type":"quantitative","scale":{"domain":[0,35],"nice":false},"axis":{"orient":"right","values":[0,10,20,30],"title":"Ethanol, Cells (g/L)"}},"y2":{"field":"hi"}}},
   {"mark":{"type":"point","size":60,"strokeWidth":1,"opacity":1},"encoding":{"shape":{"field":"s","type":"nominal","scale":{"domain":["Glucose (Wild)","Xylose (Wild)","Glucose (Adapted )","Xylose (Adapted)","Cells (Wild)","Ethanol (Wild)","Cells (Adapted )","Ethanol (Adapted)"],"range":["triangle-up","circle","triangle-up","circle","M0,-1.2L1.2,0L0,1.2L-1.2,0Z","square","M0,-1.2L1.2,0L0,1.2L-1.2,0Z","square"]},"legend":null},"fill":{"field":"s","type":"nominal","scale":{"domain":["Glucose (Wild)","Xylose (Wild)","Glucose (Adapted )","Xylose (Adapted)","Cells (Wild)","Ethanol (Wild)","Cells (Adapted )","Ethanol (Adapted)"],"range":["#a0a0a0","#a0a0a0","#ffffff","#ffffff","#a0a0a0","#a0a0a0","#ffffff","#ffffff"]},"legend":null},"stroke":{"field":"s","type":"nominal","scale":{"domain":["Glucose (Wild)","Xylose (Wild)","Glucose (Adapted )","Xylose (Adapted)","Cells (Wild)","Ethanol (Wild)","Cells (Adapted )","Ethanol (Adapted)"],"range":["#a0a0a0","#a0a0a0","#000000","#000000","#a0a0a0","#a0a0a0","#000000","#000000"]},"legend":null}}}]}
 ],"resolve":{"scale":{"y":"independent"}}}]},
 {"title":{"text":"I","anchor":"start","fontSize":17,"dx":12,"dy":28,"offset":0},"vconcat":[{"title":"3.6 g/L of Acetic Acid","width":398,"height":228,"transform":[{"filter":"datum.p=='I'"}],"layer":[
  {"transform":[{"filter":{"field":"s","oneOf":["Glucose (Wild)","Xylose (Wild)","Glucose (Adapted )","Xylose (Adapted)"]}}],"encoding":{"x":{"field":"t","type":"quantitative","scale":{"domain":[0,73],"nice":false},"axis":{"values":[0,24,48,72],"title":"Time (h)","titlePadding":0,"labelPadding":6,"ticks":false}},"y":{"field":"v","type":"quantitative","scale":{"domain":[0,70],"nice":false},"axis":{"orient":"left","values":[0,20,40,60],"title":"Glucose, Xylose (g/L)"}}},"layer":[
   {"mark":{"type":"line","interpolate":"cardinal","clip":true},"encoding":{"color":{"field":"s","type":"nominal","scale":{"domain":["Glucose (Wild)","Xylose (Wild)","Glucose (Adapted )","Xylose (Adapted)","Cells (Wild)","Ethanol (Wild)","Cells (Adapted )","Ethanol (Adapted)"],"range":["#a6a6a6","#a6a6a6","#000000","#000000","#a6a6a6","#a6a6a6","#000000","#000000"]},"legend":null},"strokeDash":{"field":"s","type":"nominal","scale":{"domain":["Glucose (Wild)","Xylose (Wild)","Glucose (Adapted )","Xylose (Adapted)","Cells (Wild)","Ethanol (Wild)","Cells (Adapted )","Ethanol (Adapted)"],"range":[[1,0],[1,0],[4,3],[4,3],[1,0],[1,0],[4,3],[4,3]]},"legend":null},"strokeWidth":{"field":"s","type":"nominal","scale":{"domain":["Glucose (Wild)","Xylose (Wild)","Glucose (Adapted )","Xylose (Adapted)","Cells (Wild)","Ethanol (Wild)","Cells (Adapted )","Ethanol (Adapted)"],"range":[2,2,1.6,1.6,2,2,1.6,1.6]},"legend":null}}},
   {"transform":[{"filter":"isValid(datum.lo)"}],"mark":{"type":"errorbar","ticks":true,"size":6,"thickness":1,"color":"#8c8c8c"},"encoding":{"y":{"field":"lo","type":"quantitative","scale":{"domain":[0,70],"nice":false},"axis":{"orient":"left","values":[0,20,40,60],"title":"Glucose, Xylose (g/L)"}},"y2":{"field":"hi"}}},
   {"mark":{"type":"point","size":60,"strokeWidth":1,"opacity":1},"encoding":{"shape":{"field":"s","type":"nominal","scale":{"domain":["Glucose (Wild)","Xylose (Wild)","Glucose (Adapted )","Xylose (Adapted)","Cells (Wild)","Ethanol (Wild)","Cells (Adapted )","Ethanol (Adapted)"],"range":["triangle-up","circle","triangle-up","circle","M0,-1.2L1.2,0L0,1.2L-1.2,0Z","square","M0,-1.2L1.2,0L0,1.2L-1.2,0Z","square"]},"legend":null},"fill":{"field":"s","type":"nominal","scale":{"domain":["Glucose (Wild)","Xylose (Wild)","Glucose (Adapted )","Xylose (Adapted)","Cells (Wild)","Ethanol (Wild)","Cells (Adapted )","Ethanol (Adapted)"],"range":["#a0a0a0","#a0a0a0","#ffffff","#ffffff","#a0a0a0","#a0a0a0","#ffffff","#ffffff"]},"legend":null},"stroke":{"field":"s","type":"nominal","scale":{"domain":["Glucose (Wild)","Xylose (Wild)","Glucose (Adapted )","Xylose (Adapted)","Cells (Wild)","Ethanol (Wild)","Cells (Adapted )","Ethanol (Adapted)"],"range":["#a0a0a0","#a0a0a0","#000000","#000000","#a0a0a0","#a0a0a0","#000000","#000000"]},"legend":null}}}]},
  {"transform":[{"filter":{"field":"s","oneOf":["Cells (Wild)","Ethanol (Wild)","Cells (Adapted )","Ethanol (Adapted)"]}}],"encoding":{"x":{"field":"t","type":"quantitative","scale":{"domain":[0,73],"nice":false},"axis":{"values":[0,24,48,72],"title":"Time (h)","titlePadding":0,"labelPadding":6,"ticks":false}},"y":{"field":"v","type":"quantitative","scale":{"domain":[0,35],"nice":false},"axis":{"orient":"right","values":[0,10,20,30],"title":"Ethanol, Cells (g/L)"}}},"layer":[
   {"mark":{"type":"line","interpolate":"cardinal","clip":true},"encoding":{"color":{"field":"s","type":"nominal","scale":{"domain":["Glucose (Wild)","Xylose (Wild)","Glucose (Adapted )","Xylose (Adapted)","Cells (Wild)","Ethanol (Wild)","Cells (Adapted )","Ethanol (Adapted)"],"range":["#a6a6a6","#a6a6a6","#000000","#000000","#a6a6a6","#a6a6a6","#000000","#000000"]},"legend":null},"strokeDash":{"field":"s","type":"nominal","scale":{"domain":["Glucose (Wild)","Xylose (Wild)","Glucose (Adapted )","Xylose (Adapted)","Cells (Wild)","Ethanol (Wild)","Cells (Adapted )","Ethanol (Adapted)"],"range":[[1,0],[1,0],[4,3],[4,3],[1,0],[1,0],[4,3],[4,3]]},"legend":null},"strokeWidth":{"field":"s","type":"nominal","scale":{"domain":["Glucose (Wild)","Xylose (Wild)","Glucose (Adapted )","Xylose (Adapted)","Cells (Wild)","Ethanol (Wild)","Cells (Adapted )","Ethanol (Adapted)"],"range":[2,2,1.6,1.6,2,2,1.6,1.6]},"legend":null}}},
   {"transform":[{"filter":"isValid(datum.lo)"}],"mark":{"type":"errorbar","ticks":true,"size":6,"thickness":1,"color":"#8c8c8c"},"encoding":{"y":{"field":"lo","type":"quantitative","scale":{"domain":[0,35],"nice":false},"axis":{"orient":"right","values":[0,10,20,30],"title":"Ethanol, Cells (g/L)"}},"y2":{"field":"hi"}}},
   {"mark":{"type":"point","size":60,"strokeWidth":1,"opacity":1},"encoding":{"shape":{"field":"s","type":"nominal","scale":{"domain":["Glucose (Wild)","Xylose (Wild)","Glucose (Adapted )","Xylose (Adapted)","Cells (Wild)","Ethanol (Wild)","Cells (Adapted )","Ethanol (Adapted)"],"range":["triangle-up","circle","triangle-up","circle","M0,-1.2L1.2,0L0,1.2L-1.2,0Z","square","M0,-1.2L1.2,0L0,1.2L-1.2,0Z","square"]},"legend":null},"fill":{"field":"s","type":"nominal","scale":{"domain":["Glucose (Wild)","Xylose (Wild)","Glucose (Adapted )","Xylose (Adapted)","Cells (Wild)","Ethanol (Wild)","Cells (Adapted )","Ethanol (Adapted)"],"range":["#a0a0a0","#a0a0a0","#ffffff","#ffffff","#a0a0a0","#a0a0a0","#ffffff","#ffffff"]},"legend":null},"stroke":{"field":"s","type":"nominal","scale":{"domain":["Glucose (Wild)","Xylose (Wild)","Glucose (Adapted )","Xylose (Adapted)","Cells (Wild)","Ethanol (Wild)","Cells (Adapted )","Ethanol (Adapted)"],"range":["#a0a0a0","#a0a0a0","#000000","#000000","#a0a0a0","#a0a0a0","#000000","#000000"]},"legend":null}}}]}
 ],"resolve":{"scale":{"y":"independent"}}}]}
],"spacing":17}
]}
]
}
